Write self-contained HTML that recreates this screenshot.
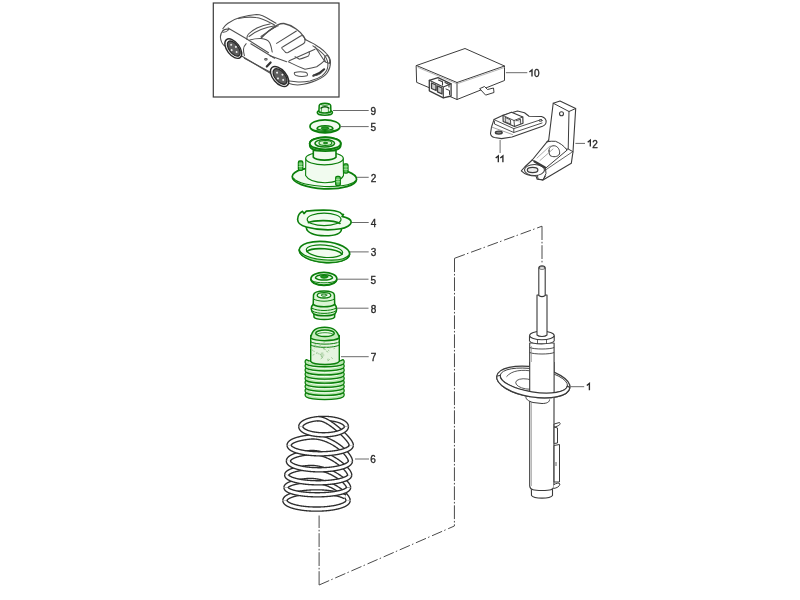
<!DOCTYPE html>
<html><head><meta charset="utf-8">
<style>
html,body{margin:0;padding:0;background:#fff;width:800px;height:600px;overflow:hidden}
svg{display:block;will-change:transform}
text{font-family:"Liberation Sans",sans-serif;font-size:10px;fill:#2a2a2a;stroke:#2a2a2a;stroke-width:0.35}
.g{stroke:#149614;stroke-width:1.4;fill:#eef9ec;stroke-linejoin:round;stroke-linecap:round}
.gn{stroke:#149614;stroke-width:1.2;fill:none;stroke-linecap:round}
.k{stroke:#3c3c3c;stroke-width:1;fill:#fff;stroke-linejoin:round;stroke-linecap:round}
.kn{stroke:#3c3c3c;stroke-width:1;fill:none;stroke-linecap:round;stroke-linejoin:round}
.ld{stroke:#6a6a6a;stroke-width:1;fill:none}

</style></head><body>
<svg width="800" height="600" viewBox="0 0 800 600">
<!-- car box -->
<rect x="213.3" y="3" width="125.7" height="94" fill="none" stroke="#3a3a3a" stroke-width="1.2"/>
<g id="car" fill="none" stroke="#505050" stroke-width="1.05" stroke-linecap="round" stroke-linejoin="round">
 <!-- rear deck outer -->
 <path d="M222.8 28.8 C224.5 26,226 24.5,228 23.2 C232 20.5,236 18.5,240 17.5 C246 16,251 15,256.5 14.5 C261 14.5,265 16.5,270 19.8 L276 23.2"/>
 <path d="M238.5 18.6 C244 17.2,250 16.7,256 17.5 C262 18,266 20.5,274.5 25"/>
 <!-- rear end -->
 <path d="M223.5 30 C221.5 32,220.3 34,220.4 37 C220.6 40,221.5 43,224 45.5 L227 47"/>
 <path d="M222.5 31 C224 29.5,226 28.5,229 29.5 C227.5 31,225 32.5,222.8 32.2"/>
 <!-- character line -->
 <path d="M228 28 L246 38.5 L268.5 52.8"/>
 <!-- windscreen / roll bar -->
 <path d="M246.8 39.3 C246.5 37,247 35.5,248.5 34 C251 31.5,254 29.5,257 28 C262 25.5,266 24.5,270 24"/>
 <path d="M249 36.5 C253 33.5,257 31,261 29.5 C266 27.5,270 26.5,275 25.8"/>
 <path d="M249.8 40 C253 39,257 38.4,261 38.5 C265 38.8,268 40,269.5 42.5 C271 45,271.5 48,272.2 52"/>
 <path d="M261 36.5 C266 33,270 30,276 26.5"/>
 <!-- roof -->
 <path d="M261.2 38 C266 33,272 28,277.7 24.9 C280 23.8,282 23.4,283.9 23.5 C289 24.5,293 26.5,296.2 29 C299 31,301.5 33.5,303.1 35.9 L305.9 40" stroke-width="1.3"/>
 <path d="M263.5 35.3 C268 31,273 27.8,278.5 25.8" stroke-width="0.8"/>
 <path d="M276.6 43.4 L296.4 31"/>
 <path d="M283 46.8 L300.6 36 C302.5 35,303.5 35.8,304.3 37.6 L305 40.5 C305.2 42,304.8 43,303 44 L288 52.5 C286.5 53.2,285.5 52.8,284.8 51.5 L282 48.5 C281.5 47.5,282 47.2,283 46.8 Z"/>
 <!-- fender & front -->
 <path d="M306.3 40 C309 41.3,311 42.3,312.9 43.4 C315 44.6,317 46,319.5 47.5 C322 49.3,324.3 51,326.1 53.3 C329 56,330.5 59,330.5 62 C330.5 66,329.5 69.5,327.5 72.5 C325.5 75.5,322 78,316 80.5 C311 82.5,306 84.2,300 84.8 C296 85.2,292 84.6,288.3 83.3"/>
 <path d="M312.9 45.8 C318 49.5,322 52,324.5 55.5 C327.3 59,328.2 63,327.8 66.5 C327.5 70,325.5 73,322 75.8 C319 78,315 79.8,310 81 C305 82,300 82.2,296 81.8 L287.5 80.8"/>
 <path d="M315 46.7 L325 61.7"/>
 <path d="M327.5 55.5 C329.5 58,330 61,329.5 63.5 L325.5 62 C324.5 60,324 58,325 56 Z"/>
 <!-- hood -->
 <path d="M289.2 60.8 L315 49.2"/>
 <path d="M288.3 61.7 C293 64,298 66.8,305 69.2 C309 68.5,313 67.7,316.7 66.7 C320 64.5,322.5 62.5,324.2 60.8"/>
 <path d="M295 56.7 C297 57.5,298.5 58.5,299.2 59.2 C302 58.5,305 57.3,308.5 56 C309.5 55,309.5 53,309.2 51.7"/>
 <path d="M270 55.8 L286.7 61.7"/>
 <!-- headlight & intake -->
 <path d="M294.5 72.5 C298 71.5,302 71.5,305.5 72.3 C307.5 73,308 74.5,307 75.8 C303 76.8,299 76.5,296 75.5 C294.5 74.8,294 73.5,294.5 72.5 Z"/>
 <path d="M313.3 75.8 C317 74.5,321 72.5,324.2 69.2" stroke-width="2" stroke="#333"/>
 <path d="M313.5 75 C316 76,320 75,323 71"/>
 <!-- side -->
 <path d="M242.5 56.5 L272.8 74.8"/>
 <path d="M244.4 58.3 L271.8 73"/>
 <path d="M246.2 43.7 C244.5 45.5,243.5 47.5,243.5 49.2 C243.4 51.5,243.8 53.5,244.4 55.6"/>
 <path d="M250.8 43.7 L274.6 58.3"/>
 <path d="M266.8 66.5 L270.6 62.5" stroke-width="2.2" stroke="#333"/>
 <ellipse cx="265.9" cy="59.3" rx="1.3" ry="0.8"/>
 <path d="M226 47 C230 50,236 55,242.5 56.5"/>
 <!-- wheels -->
 <g stroke="#2a2a2a">
  <g transform="rotate(53 233.3 48.6)">
   <ellipse cx="233.3" cy="48.6" rx="11.3" ry="6.3" stroke-width="1.4" fill="#fff"/>
   <ellipse cx="233.6" cy="48.2" rx="8.8" ry="4.6" stroke-width="1.3" fill="#5e5e5e"/>
   <circle cx="229" cy="48" r="1" fill="#eee" stroke="none"/><circle cx="233.5" cy="45.5" r="1" fill="#eee" stroke="none"/><circle cx="238" cy="48" r="1" fill="#eee" stroke="none"/><circle cx="233.5" cy="50.8" r="1" fill="#eee" stroke="none"/>
  </g>
  <g transform="rotate(50 279.6 76.5)">
   <ellipse cx="279.6" cy="76.5" rx="11.8" ry="6.7" stroke-width="1.4" fill="#fff"/>
   <ellipse cx="279.9" cy="76.1" rx="9.2" ry="5" stroke-width="1.3" fill="#5e5e5e"/>
   <circle cx="275" cy="76" r="1" fill="#eee" stroke="none"/><circle cx="280" cy="73.2" r="1" fill="#eee" stroke="none"/><circle cx="284.5" cy="76" r="1" fill="#eee" stroke="none"/><circle cx="280" cy="79" r="1" fill="#eee" stroke="none"/>
  </g>
 </g>
</g>
</g>

<!-- module 10 -->
<g class="kn" stroke="#333" stroke-width="1">
 <path d="M416.5 65.5 L465 48.5 L504.5 66 L504.5 80.5 L457 99.5 L417 82.5 Z" fill="#fff"/>
 <path d="M416.5 65.5 L457 82.5 L504.5 66"/>
 <path d="M457 82.5 L457 99.5"/>
 <path d="M418 67.5 L457 83.8 L504.5 67.5" stroke="#999" stroke-width="0.7"/>
 <!-- connector -->
 <path d="M429.3 80.3 L438 77.6 L451.1 83.8 L451.1 96 L443.3 97.8 L429.3 90.8 Z" fill="#fff" stroke-width="1.3"/>
 <path d="M429.3 80.3 L443.3 87 L451.1 83.8 M443.3 87 L443.3 97.8" stroke-width="1.1"/>
 <path d="M431.5 83 L436 85 L436 90.5 L431.5 88.5 Z M437.5 85.8 L442 88 L442 94 L437.5 91.8 Z" stroke-width="1.3" fill="#ccc"/>
 <path d="M438.5 80 L442.5 81.8 L442.5 85 M445 82.5 L449 84.5 L449 87" stroke-width="1.1"/>
 <path d="M446 89 L449.5 90.5 L449.5 94.5" stroke-width="1"/>
 <!-- tab -->
 <path d="M480 88.5 L484.5 86.5 L487.5 89.5 L493.5 88 L494 92.5 L486 95 Z" fill="#fff"/>
</g>
<!-- sensor 11 -->
<g class="kn" stroke="#333" stroke-width="1">
 <path d="M490.5 133.5 C490.8 135.8,492 137,494.5 137.5 L501.5 138.6 L512 137 L542.5 126.2 C545.5 125,546.5 122.5,546 120.5 C545.5 118,544 117.3,541.5 116.5 L529 116.3 L524.5 112.8 L517.5 111 L503 115.2 L494 119.6 L491.5 127 Z" fill="#fff" stroke-width="1.1"/>
 <path d="M494 119.6 L513.8 128.6 L541.5 119.5" stroke-width="0.9"/>
 <path d="M494.5 121.5 L494.5 124 L513.8 132.5 L513.8 128.6" stroke-width="0.9"/>
 <path d="M513.8 132.5 L542 123" stroke-width="0.9"/>
 <path d="M491.5 127 L512.5 134.5" stroke-width="0.7" stroke="#777"/>
 <path d="M503 115.5 L503.2 121.5 L514.5 126.5 L523 123.2 L522.8 117 L511.5 112.2 Z" fill="#fff" stroke-width="1.2"/>
 <path d="M503 115.5 L514 120.5 L522.8 117 M514 120.5 L514.5 126.5" stroke-width="0.9"/>
 <path d="M505.5 117.5 L510.5 119.8 L510.7 124.2 L505.7 122 Z M516 120.8 L520.5 119.2 L520.7 123.5" stroke-width="0.9" fill="#ddd"/>
 <ellipse cx="498.8" cy="132.6" rx="3.4" ry="1.5" stroke-width="1.4" fill="#888"/>
 <ellipse cx="540.5" cy="120.6" rx="1.6" ry="0.9" stroke-width="0.8"/>
</g>
<!-- bracket 12 -->
<g class="kn" stroke="#333" stroke-width="1">
 <path d="M553.2 103.2 L560 101 L575.7 108.5 L573 151.7 L571.3 163.3 L543 180 L537.2 179.2 L536 176 C530 176,524.5 174,521.3 170.8 L524.7 167 L532.2 160 L547.2 141.7 L548.7 140 Z" fill="#fff" stroke-width="1.1"/>
 <path d="M553.2 103.2 L569 111.5 L575.7 108.5 M569 111.5 L568.2 149" />
 <path d="M548.7 140 C549 141.5,548 142,547.2 141.7"/>
 <circle cx="561.5" cy="113.7" r="2" stroke-width="1.1"/>
 <path d="M547.2 141.7 C549.5 141.3,553 141,555.5 141.3 C560 143,564 146,566.3 149.2 L568.2 149 L573 151.7"/>
 <path d="M566.3 149.2 L567.2 150 L545.5 168.3 L537.5 164"/>
 <path d="M532.2 160 L545.5 168.3 L546 173.5 L543 180" />
 <path d="M534.5 161.5 L545 167.5" stroke-width="2.2"/>
 <path d="M571.5 152.5 L545.5 170" stroke-width="0.8"/>
 <path d="M549 151 C548.5 147,552 145,555.5 146 C559 147.5,560 151,559.5 154 C558 157,553 157.5,550 155.5 C549.3 154,549 152.5,549 151 Z" stroke-width="1"/>
 <path d="M537 158 L550 146 M540 160.5 L553 149" stroke-width="0.7" stroke="#888"/>
 <ellipse cx="534.5" cy="170" rx="10" ry="5.5" stroke-width="1.1"/>
 <ellipse cx="532.6" cy="170" rx="5.3" ry="2.6" stroke-width="1.2" fill="#eee"/>
 <path d="M537.5 175.5 L538 179 L543 180 L545.5 176" stroke-width="1"/>
</g>


<g id="greens" stroke="#0b7f0b" stroke-linecap="round" stroke-linejoin="round" fill="#f1fbef">
 <!-- nut 9 -->
 <g stroke-width="1.5">
  <ellipse cx="324.85" cy="112.5" rx="7.6" ry="2.8"/>
  <path d="M318.9 111.6 L319.2 105.6 C319.5 103.6,322 103.2,324.9 103.2 C328 103.2,330.4 103.6,330.7 105.6 L330.9 111.6 C329 113.4,321 113.4,318.9 111.6 Z" fill="#e6f8e2"/>
  <path d="M321.2 108 C322.5 106.3,327.3 106.3,328.7 108" stroke-width="1.7" stroke="#075a07" fill="none"/>
  <path d="M321 104.6 C322.5 105.6,327.5 105.6,329 104.6" stroke-width="0.9" fill="none"/>
  <path d="M321.5 109 L321.3 111.8 M328.3 109 L328.5 111.8" stroke-width="0.7" fill="none"/>
 </g>
 <!-- washer 5 top -->
 <g stroke-width="1.7">
  <ellipse cx="325" cy="126.4" rx="15" ry="6.5"/>
  <path d="M311.2 128.6 C314 132.2,336 132.2,338.8 128.6" fill="none" stroke-width="1.3"/>
  <path d="M317 128.8 C317.5 124.8,332.5 124.8,333 128.8 C330 130.6,320 130.6,317 128.8 Z" fill="#d8f4d2" stroke-width="1.5"/>
  <ellipse cx="325" cy="128.2" rx="3.8" ry="1.4" fill="#2b9a2b" stroke-width="0.9"/>
 </g>
 <!-- top mount 2 -->
 <g stroke-width="1.4">
  <g transform="rotate(2.5 324.4 178)">
   <ellipse cx="324.4" cy="178" rx="32.2" ry="10.8" stroke-width="1.7"/>
   <path d="M293.5 179.5 C297 184.5,312 186.5,324.4 186.5 C338 186.5,352 184,355.5 179.5" fill="none" stroke-width="1.1"/>
  </g>
  <path d="M305.8 158.5 L305.6 175.5 C308 180,316 182.5,325 182.7 C334 182.5,341.5 180,343.5 175.5 L343.2 158.5 Z" stroke-width="1.1"/>
  <ellipse cx="324.5" cy="158.5" rx="18.8" ry="6.3" stroke-width="1.2"/>
  <path d="M313.3 150.5 L313.3 157.3 C316 161,333 161,336 157.3 L336 150.5 Z" stroke-width="1.6"/>
  <path d="M309.75 143.4 A15.5 6.1 0 0 1 340.75 143.4 L340.6 146.2 C339.5 152.8,311 152.8,309.9 146.2 Z" stroke-width="1.8" fill="#d9f4d3"/>
  <ellipse cx="325.25" cy="143.4" rx="15.5" ry="6.1" stroke-width="1.9"/>
  <ellipse cx="324.8" cy="143.3" rx="9.8" ry="3.8" stroke-width="1.5" fill="#e8f8e4"/>
  <ellipse cx="325.4" cy="143" rx="6.5" ry="2.5" stroke-width="1.1" fill="#d4f2cc"/>
  <ellipse cx="325.4" cy="143" rx="2" ry="0.9" stroke-width="0.9" fill="#3aa03a"/>
  <!-- studs -->
  <g stroke-width="1.3" fill="#5cbf5c">
   <rect x="298.4" y="161" width="4.4" height="9.3" rx="1.4"/>
   <rect x="343.6" y="163.8" width="4.4" height="9.3" rx="1.4"/>
   <rect x="335.7" y="176.3" width="4.6" height="9.3" rx="1.4"/>
   <path d="M299 164 H302.2 M299 166.5 H302.2 M344.2 166.8 H347.4 M344.2 169.3H347.4 M336.3 179.3H339.7 M336.3 181.8H339.7" stroke-width="0.8" stroke="#bdf0b5" fill="none"/>
  </g>
 </g>
 <!-- pad 4 -->
 <g stroke-width="1.5">
  <path d="M306.3 227.5 C306.5 232.5,314 235.8,325 235.8 C335 235.8,341.3 233.5,341.5 229" stroke-width="1.6"/>
  <path d="M297.6 219.5 C297.8 215.5,300 212.5,302.6 211.3 L304 213.6 L306.3 211.1 C312 210.5,322 209.9,330 210.3 C336 210.8,340.5 212.2,341.5 213.9 L343.5 214.6 L342 216.4 C347 217.5,351 219.5,351.2 222 C351.2 225,346 228,340.6 228.8 C332 230.3,318 230.1,306.3 226.9 C301 225.5,297.6 223,297.6 219.5 Z" stroke-width="1.6"/>
  <ellipse cx="324.1" cy="219.4" rx="16.9" ry="6.2" stroke-width="1.2"/>
  <path d="M308.5 222.6 C314 220,333 219.6,340 223.4" fill="none" stroke-width="1.7"/>
 </g>
 <!-- pad 3 -->
 <g stroke-width="1.6" transform="rotate(5 324.4 252)">
  <ellipse cx="324.4" cy="252" rx="25.3" ry="10.5" stroke-width="1.7"/>
  <path d="M299.1 252 A25.3 10.5 0 0 0 349.7 252 C347 257.5,337 259.8,324.4 259.8 C312 259.8,302 257.5,299.1 252 Z" fill="#a6e09f" stroke-width="1.2"/>
  <ellipse cx="324.4" cy="251.2" rx="18.2" ry="6.1" stroke-width="1.2"/>
  <path d="M307 253 C312 247.5,337 247.3,342.2 252.5" fill="none" stroke-width="1.7"/>
 </g>
 <!-- washer 5 lower -->
 <g stroke-width="1.6">
  <path d="M310.9 279.5 C311.5 283.8,318 285.4,324 285.4 C330 285.4,336.3 283.8,336.9 279.5" stroke-width="1.7"/>
  <ellipse cx="323.9" cy="278.7" rx="13" ry="6.3"/>
  <path d="M312.5 281 C316 283.5,332 283.5,335.5 281" fill="none" stroke-width="1"/>
  <path d="M315.4 277.9 C316 273.6,332 273.6,332.6 277.9 C329.5 280.8,318.5 280.8,315.4 277.9 Z" fill="#e4f8e0" stroke-width="1.4"/>
  <ellipse cx="324.2" cy="276.8" rx="3.7" ry="1.4" fill="#1f961f" stroke-width="1"/>
 </g>
 <!-- bump stop 8 -->
 <g stroke-width="1.4" fill="#dcf5d6">
  <path d="M313.9 313.6 L314 317.2 C316 320.4,332.5 320.4,334.6 317.2 L334.7 313.6 Z" stroke-width="1.5"/>
  <path d="M313.2 304.3 C311.6 305.5,311.2 307,311.3 309 C311.5 311.5,312.5 313,313.9 314 C318 316.4,330.5 316.4,334.7 314 C336 313,336.6 311.5,336.6 309 C336.6 307,336 305.5,334.7 304.3 Z" stroke-width="1.6"/>
  <path d="M313.2 304.5 L313.5 295 C314 292.2,319 291.1,324 291.1 C329 291.1,334 292.2,334.4 295 L334.7 304.5 C330 307.6,318 307.6,313.2 304.5 Z" stroke-width="1.5"/>
  <ellipse cx="324" cy="295.3" rx="6.8" ry="2.7" stroke-width="1.3" fill="#f0fbee"/>
  <ellipse cx="324" cy="295.1" rx="2.8" ry="1.1" stroke-width="1" fill="#fff"/>
  <path d="M313.5 299 C318 302,330 302,334.5 299 M312 308.3 C318 311.3,330 311.3,336 308.3 M312.5 311.2 C318 314.2,330 314.2,335.5 311.2" fill="none" stroke-width="1"/>
 </g>
 <!-- boot 7 -->
 <g stroke-width="1.3" fill="#b9e6b0">
  <path d="M306.3 392.4 C312 396.0,337.5 396.0,343 392.4 C344.6 393.6,344.6 396.0,343 397.0 C337.5 400.4,312 400.4,306.3 397.0 C304.7 396.0,304.7 393.6,306.3 392.4 Z"/>
  <path d="M309.5 395.0 C315 397.8,334 397.8,340 395.0" stroke="#f4fff2" stroke-width="1" fill="none"/>
  <path d="M306.3 388.3 C312 391.9,337.5 391.9,343 388.3 C344.6 389.5,344.6 391.9,343 392.9 C337.5 396.3,312 396.3,306.3 392.9 C304.7 391.9,304.7 389.5,306.3 388.3 Z"/>
  <path d="M309.5 390.9 C315 393.7,334 393.7,340 390.9" stroke="#f4fff2" stroke-width="1" fill="none"/>
  <path d="M306.3 384.2 C312 387.8,337.5 387.8,343 384.2 C344.6 385.4,344.6 387.8,343 388.8 C337.5 392.2,312 392.2,306.3 388.8 C304.7 387.8,304.7 385.4,306.3 384.2 Z"/>
  <path d="M309.5 386.8 C315 389.6,334 389.6,340 386.8" stroke="#f4fff2" stroke-width="1" fill="none"/>
  <path d="M306.3 380.1 C312 383.7,337.5 383.7,343 380.1 C344.6 381.3,344.6 383.7,343 384.7 C337.5 388.1,312 388.1,306.3 384.7 C304.7 383.7,304.7 381.3,306.3 380.1 Z"/>
  <path d="M309.5 382.7 C315 385.5,334 385.5,340 382.7" stroke="#f4fff2" stroke-width="1" fill="none"/>
  <path d="M306.3 376.0 C312 379.6,337.5 379.6,343 376.0 C344.6 377.2,344.6 379.6,343 380.6 C337.5 384.0,312 384.0,306.3 380.6 C304.7 379.6,304.7 377.2,306.3 376.0 Z"/>
  <path d="M309.5 378.6 C315 381.4,334 381.4,340 378.6" stroke="#f4fff2" stroke-width="1" fill="none"/>
  <path d="M306.3 371.9 C312 375.5,337.5 375.5,343 371.9 C344.6 373.1,344.6 375.5,343 376.5 C337.5 379.9,312 379.9,306.3 376.5 C304.7 375.5,304.7 373.1,306.3 371.9 Z"/>
  <path d="M309.5 374.5 C315 377.3,334 377.3,340 374.5" stroke="#f4fff2" stroke-width="1" fill="none"/>
  <path d="M306.3 367.8 C312 371.4,337.5 371.4,343 367.8 C344.6 369.0,344.6 371.4,343 372.4 C337.5 375.8,312 375.8,306.3 372.4 C304.7 371.4,304.7 369.0,306.3 367.8 Z"/>
  <path d="M309.5 370.4 C315 373.2,334 373.2,340 370.4" stroke="#f4fff2" stroke-width="1" fill="none"/>
  <path d="M306.3 363.7 C312 367.3,337.5 367.3,343 363.7 C344.6 364.9,344.6 367.3,343 368.3 C337.5 371.7,312 371.7,306.3 368.3 C304.7 367.3,304.7 364.9,306.3 363.7 Z"/>
  <path d="M309.5 366.3 C315 369.1,334 369.1,340 366.3" stroke="#f4fff2" stroke-width="1" fill="none"/>
  <path d="M306.3 359.6 C312 363.2,337.5 363.2,343 359.6 C344.6 360.8,344.6 363.2,343 364.2 C337.5 367.6,312 367.6,306.3 364.2 C304.7 363.2,304.7 360.8,306.3 359.6 Z"/>
  <path d="M309.5 362.2 C315 365.0,334 365.0,340 362.2" stroke="#f4fff2" stroke-width="1" fill="none"/>
  <path d="M310.7 335.5 L310.7 361.5 C314 365.5,336 365.5,339.3 361.5 L339.3 335.5 Z" fill="#e6f4e0" stroke-width="1.4"/>
  <path d="M310.7 338 C312 330,316 327.3,324.7 327.3 C333 327.3,337.5 330,339.3 338 C334 341.5,315 341.5,310.7 338 Z" fill="#c6ecbd" stroke-width="1.5"/>
  <ellipse cx="325" cy="333.3" rx="9.3" ry="3.3" fill="#eafae6" stroke-width="1.5"/>
  <path d="M316.5 334.5 C319 332,331 332,333.5 334.5" fill="none" stroke-width="0.8"/>
  <path d="M310.7 341.8 C315 345,335 345,339.3 341.8 M310.7 345 C315 348.2,335 348.2,339.3 345" fill="none" stroke-width="1"/>
  <path d="M320.1 345.7 l0.6 -2.2 M325.4 349.6 l-1.8 -0.7 M312.9 350.8 l-1.7 -2.2 M322.6 357.9 l-1.5 -1.7 M327.7 360.1 l0.3 -1.1 M336.4 343.8 l1.4 -1.5 M315.6 345.1 l-0.8 0.4 M316.5 353.5 l0.6 -1.2 M325.7 344.1 l-1.8 -1.8 M329.0 350.7 l-0.7 -0.5 M323.3 348.4 l1.2 -0.1 M318.1 353.3 l0.1 0.6 M330.2 348.2 l1.9 -2.1 M322.5 356.6 l-1.4 -0.8 M313.0 355.0 l1.1 -0.5 M333.9 348.6 l0.8 -0.4 M326.5 351.2 l1.4 0.8 M323.9 355.0 l-1.8 -0.0 M328.2 360.9 l1.3 -1.5 M321.6 355.0 l-1.9 -0.9 M316.2 345.1 l-1.8 0.2 M315.2 347.5 l-0.4 0.5 M314.0 351.1 l0.2 0.6 M332.5 358.6 l-0.9 -1.0 M321.0 358.9 l1.8 -2.0 M316.4 347.2 l-1.1 -0.8 M326.7 347.7 l-2.0 -1.0 M321.2 353.2 l1.8 -0.1" stroke-width="0.8" stroke="#8fbf88" fill="none"/>
 </g>
</g>

<!-- spring 6 -->
<g id="spring" fill="none" stroke-linecap="butt" stroke-linejoin="round">
<path d="M316.55 418.80 L316.93 418.76 L317.32 418.72 L317.70 418.68 L318.08 418.64 L318.47 418.61 L318.86 418.58 L319.25 418.55 L319.64 418.52 L320.03 418.50 L320.43 418.48 L320.82 418.46 L321.22 418.44 L321.61 418.43 L322.01 418.42 L322.41 418.41 L322.81 418.40 L323.20 418.40 L323.60 418.40 L324.00 418.40 L324.40 418.41 L324.80 418.41 L325.19 418.42 L325.59 418.43 L325.99 418.45 L326.38 418.46 L326.78 418.48 L327.17 418.50 L327.56 418.52 L327.95 418.55 L328.34 418.58 L328.73 418.61 L329.12 418.64 L329.51 418.68 L329.89 418.72 L330.27 418.76 L330.65 418.80 L331.03 418.85 L331.40 418.90 L331.78 418.95 L332.15 419.00 L332.51 419.05 L332.88 419.11 L333.24 419.17 L333.60 419.23 L333.96 419.29 L334.31 419.36 L334.66 419.43 L335.01 419.50 L335.35 419.57 L335.69 419.65 L336.02 419.72 L336.36 419.80 L336.68 419.88 L337.01 419.97 L337.33 420.05 L337.64 420.14 L337.95 420.23 L338.26 420.32 L338.56 420.41 L338.86 420.51 L339.16 420.61 L339.44 420.70 L339.73 420.80 L340.01 420.91 L340.28 421.01 L340.55 421.12 L340.81 421.22 L341.07 421.33 L341.33 421.44 L341.57 421.55 L341.81 421.67 L342.05 421.78 L342.28 421.90 L342.51 422.02 L342.73 422.14 L342.94 422.26 L343.15 422.38 L343.35 422.50 L343.55 422.63 L343.74 422.75 L343.92 422.88 L344.10 423.01 L344.27 423.14 L344.43 423.27 L344.59 423.40 L344.74 423.53 L344.89 423.67 L345.03 423.80 L345.16 423.93 L345.29 424.07 L345.41 424.21 L345.52 424.34 L345.63 424.48 L345.73 424.62 L345.82 424.76 L345.90 424.90 L345.98 425.04 L346.06 425.18 L346.12 425.32 L346.18 425.46 L346.23 425.61 L346.28 425.75 L346.31 425.89 L346.35 426.03 L346.37 426.18 L346.39 426.32 L346.40 426.46 L346.40 426.61" stroke="#2e2e2e" stroke-width="5.5"/><path d="M316.55 418.80 L316.93 418.76 L317.32 418.72 L317.70 418.68 L318.08 418.64 L318.47 418.61 L318.86 418.58 L319.25 418.55 L319.64 418.52 L320.03 418.50 L320.43 418.48 L320.82 418.46 L321.22 418.44 L321.61 418.43 L322.01 418.42 L322.41 418.41 L322.81 418.40 L323.20 418.40 L323.60 418.40 L324.00 418.40 L324.40 418.41 L324.80 418.41 L325.19 418.42 L325.59 418.43 L325.99 418.45 L326.38 418.46 L326.78 418.48 L327.17 418.50 L327.56 418.52 L327.95 418.55 L328.34 418.58 L328.73 418.61 L329.12 418.64 L329.51 418.68 L329.89 418.72 L330.27 418.76 L330.65 418.80 L331.03 418.85 L331.40 418.90 L331.78 418.95 L332.15 419.00 L332.51 419.05 L332.88 419.11 L333.24 419.17 L333.60 419.23 L333.96 419.29 L334.31 419.36 L334.66 419.43 L335.01 419.50 L335.35 419.57 L335.69 419.65 L336.02 419.72 L336.36 419.80 L336.68 419.88 L337.01 419.97 L337.33 420.05 L337.64 420.14 L337.95 420.23 L338.26 420.32 L338.56 420.41 L338.86 420.51 L339.16 420.61 L339.44 420.70 L339.73 420.80 L340.01 420.91 L340.28 421.01 L340.55 421.12 L340.81 421.22 L341.07 421.33 L341.33 421.44 L341.57 421.55 L341.81 421.67 L342.05 421.78 L342.28 421.90 L342.51 422.02 L342.73 422.14 L342.94 422.26 L343.15 422.38 L343.35 422.50 L343.55 422.63 L343.74 422.75 L343.92 422.88 L344.10 423.01 L344.27 423.14 L344.43 423.27 L344.59 423.40 L344.74 423.53 L344.89 423.67 L345.03 423.80 L345.16 423.93 L345.29 424.07 L345.41 424.21 L345.52 424.34 L345.63 424.48 L345.73 424.62 L345.82 424.76 L345.90 424.90 L345.98 425.04 L346.06 425.18 L346.12 425.32 L346.18 425.46 L346.23 425.61 L346.28 425.75 L346.31 425.89 L346.35 426.03 L346.37 426.18 L346.39 426.32 L346.40 426.46 L346.40 426.61" stroke="#fff" stroke-width="2.8"/>
<path d="M300.80 426.59 L300.80 426.44 L300.82 426.30 L300.83 426.16 L300.86 426.01 L300.89 425.87 L300.93 425.73 L300.98 425.59 L301.03 425.44 L301.09 425.30 L301.15 425.16 L301.23 425.02 L301.31 424.88 L301.39 424.74 L301.49 424.60 L301.59 424.46 L301.70 424.32 L301.81 424.19 L301.93 424.05 L302.06 423.92 L302.19 423.78 L302.33 423.65 L302.48 423.51 L302.63 423.38 L302.79 423.25 L302.96 423.12 L303.13 422.99 L303.31 422.86 L303.49 422.74 L303.68 422.61 L303.88 422.49 L304.08 422.36 L304.29 422.24 L304.50 422.12 L304.72 422.00 L304.95 421.88 L305.18 421.77 L305.42 421.65 L305.66 421.54 L305.91 421.43 L306.16 421.32 L306.42 421.21 L306.69 421.10 L306.96 421.00 L307.23 420.89 L307.51 420.79 L307.80 420.69 L308.09 420.59 L308.38 420.49 L308.68 420.40 L308.98 420.31 L309.29 420.22 L309.60 420.13 L309.92 420.04 L310.24 419.96 L310.56 419.87 L310.89 419.79 L311.22 419.71 L311.56 419.64 L311.90 419.56 L312.24 419.49 L312.59 419.42 L312.94 419.35 L313.29 419.29 L313.65 419.22 L314.01 419.16 L314.37 419.10 L314.74 419.04 L315.11 418.99 L315.48 418.94 L315.85 418.89 L316.23 418.84 L316.60 418.80 L316.98 418.76 L317.36 418.73 L317.74 418.72 L318.11 418.72 L318.49 418.73 L318.86 418.74 L319.24 418.77 L319.61 418.82 L319.99 418.87 L320.37 418.93 L320.74 419.00 L321.12 419.08 L321.50 419.17 L321.88 419.27 L322.26 419.38 L322.64 419.50 L323.02 419.63 L323.40 419.77 L323.78 419.91 L324.17 420.07 L324.55 420.23 L324.94 420.40 L325.33 420.58 L325.72 420.77 L326.11 420.96 L326.50 421.17 L326.89 421.37 L327.29 421.59 L327.68 421.82 L328.08 422.05 L328.48 422.28 L328.88 422.53 L329.28 422.78 L329.68 423.03 L330.08 423.30 L330.49 423.56 L330.89 423.84 L331.30 424.12 L331.70 424.40 L332.11 424.69 L332.52 424.98 L332.92 425.28 L333.33 425.58 L333.74 425.89 L334.15 426.20 L334.56 426.52 L334.96 426.84 L335.37 427.16 L335.78 427.48 L336.19 427.81 L336.59 428.14 L337.00 428.48 L337.40 428.82 L337.80 429.15 L338.20 429.50 L338.60 429.84 L338.99 430.18 L339.39 430.53 L339.78 430.88 L340.17 431.23 L340.56 431.58 L340.94 431.93 L341.32 432.28 L341.70 432.63 L342.07 432.99 L342.44 433.34 L342.80 433.69 L343.16 434.04 L343.52 434.39 L343.87 434.74 L344.21 435.09 L344.55 435.44 L344.89 435.78 L345.22 436.13 L345.54 436.47 L345.85 436.81 L346.16 437.15 L346.47 437.48 L346.76 437.81 L347.05 438.14 L347.33 438.47 L347.60 438.79 L347.87 439.11 L348.12 439.42 L348.37 439.74 L348.61 440.04 L348.84 440.34 L349.06 440.64 L349.27 440.93 L349.48 441.22 L349.67 441.50 L349.85 441.78 L350.03 442.05 L350.19 442.31 L350.34 442.57 L350.48 442.82 L350.61 443.06 L350.73 443.30 L350.84 443.53 L350.94 443.75 L351.02 443.96 L351.10 444.17 L351.16 444.37 L351.21 444.56 L351.25 444.74 L351.28 444.91 L351.30 445.07 L351.30 445.23" stroke="#2e2e2e" stroke-width="5.5"/><path d="M300.80 426.59 L300.80 426.44 L300.82 426.30 L300.83 426.16 L300.86 426.01 L300.89 425.87 L300.93 425.73 L300.98 425.59 L301.03 425.44 L301.09 425.30 L301.15 425.16 L301.23 425.02 L301.31 424.88 L301.39 424.74 L301.49 424.60 L301.59 424.46 L301.70 424.32 L301.81 424.19 L301.93 424.05 L302.06 423.92 L302.19 423.78 L302.33 423.65 L302.48 423.51 L302.63 423.38 L302.79 423.25 L302.96 423.12 L303.13 422.99 L303.31 422.86 L303.49 422.74 L303.68 422.61 L303.88 422.49 L304.08 422.36 L304.29 422.24 L304.50 422.12 L304.72 422.00 L304.95 421.88 L305.18 421.77 L305.42 421.65 L305.66 421.54 L305.91 421.43 L306.16 421.32 L306.42 421.21 L306.69 421.10 L306.96 421.00 L307.23 420.89 L307.51 420.79 L307.80 420.69 L308.09 420.59 L308.38 420.49 L308.68 420.40 L308.98 420.31 L309.29 420.22 L309.60 420.13 L309.92 420.04 L310.24 419.96 L310.56 419.87 L310.89 419.79 L311.22 419.71 L311.56 419.64 L311.90 419.56 L312.24 419.49 L312.59 419.42 L312.94 419.35 L313.29 419.29 L313.65 419.22 L314.01 419.16 L314.37 419.10 L314.74 419.04 L315.11 418.99 L315.48 418.94 L315.85 418.89 L316.23 418.84 L316.60 418.80 L316.98 418.76 L317.36 418.73 L317.74 418.72 L318.11 418.72 L318.49 418.73 L318.86 418.74 L319.24 418.77 L319.61 418.82 L319.99 418.87 L320.37 418.93 L320.74 419.00 L321.12 419.08 L321.50 419.17 L321.88 419.27 L322.26 419.38 L322.64 419.50 L323.02 419.63 L323.40 419.77 L323.78 419.91 L324.17 420.07 L324.55 420.23 L324.94 420.40 L325.33 420.58 L325.72 420.77 L326.11 420.96 L326.50 421.17 L326.89 421.37 L327.29 421.59 L327.68 421.82 L328.08 422.05 L328.48 422.28 L328.88 422.53 L329.28 422.78 L329.68 423.03 L330.08 423.30 L330.49 423.56 L330.89 423.84 L331.30 424.12 L331.70 424.40 L332.11 424.69 L332.52 424.98 L332.92 425.28 L333.33 425.58 L333.74 425.89 L334.15 426.20 L334.56 426.52 L334.96 426.84 L335.37 427.16 L335.78 427.48 L336.19 427.81 L336.59 428.14 L337.00 428.48 L337.40 428.82 L337.80 429.15 L338.20 429.50 L338.60 429.84 L338.99 430.18 L339.39 430.53 L339.78 430.88 L340.17 431.23 L340.56 431.58 L340.94 431.93 L341.32 432.28 L341.70 432.63 L342.07 432.99 L342.44 433.34 L342.80 433.69 L343.16 434.04 L343.52 434.39 L343.87 434.74 L344.21 435.09 L344.55 435.44 L344.89 435.78 L345.22 436.13 L345.54 436.47 L345.85 436.81 L346.16 437.15 L346.47 437.48 L346.76 437.81 L347.05 438.14 L347.33 438.47 L347.60 438.79 L347.87 439.11 L348.12 439.42 L348.37 439.74 L348.61 440.04 L348.84 440.34 L349.06 440.64 L349.27 440.93 L349.48 441.22 L349.67 441.50 L349.85 441.78 L350.03 442.05 L350.19 442.31 L350.34 442.57 L350.48 442.82 L350.61 443.06 L350.73 443.30 L350.84 443.53 L350.94 443.75 L351.02 443.96 L351.10 444.17 L351.16 444.37 L351.21 444.56 L351.25 444.74 L351.28 444.91 L351.30 445.07 L351.30 445.23" stroke="#fff" stroke-width="2.8"/>
<path d="M289.10 445.17 L289.11 445.02 L289.12 444.87 L289.15 444.72 L289.18 444.57 L289.23 444.42 L289.28 444.27 L289.35 444.12 L289.42 443.97 L289.50 443.82 L289.59 443.67 L289.70 443.52 L289.81 443.38 L289.93 443.23 L290.06 443.09 L290.19 442.94 L290.34 442.80 L290.50 442.65 L290.66 442.51 L290.84 442.37 L291.02 442.23 L291.21 442.08 L291.41 441.95 L291.62 441.81 L291.84 441.67 L292.07 441.53 L292.30 441.40 L292.55 441.26 L292.80 441.13 L293.06 441.00 L293.33 440.87 L293.61 440.74 L293.90 440.61 L294.19 440.49 L294.49 440.36 L294.80 440.24 L295.12 440.12 L295.44 440.00 L295.77 439.88 L296.11 439.76 L296.46 439.64 L296.82 439.53 L297.18 439.42 L297.55 439.31 L297.92 439.20 L298.30 439.09 L298.69 438.99 L299.09 438.89 L299.49 438.78 L299.90 438.69 L300.31 438.59 L300.73 438.49 L301.16 438.40 L301.59 438.31 L302.03 438.22 L302.47 438.13 L302.92 438.05 L303.38 437.97 L303.84 437.89 L304.30 437.81 L304.77 437.73 L305.24 437.66 L305.72 437.59 L306.20 437.52 L306.69 437.45 L307.18 437.39 L307.68 437.33 L308.18 437.27 L308.68 437.21 L309.18 437.16 L309.69 437.11 L310.21 437.06 L310.72 437.01 L311.24 436.97 L311.76 436.94 L312.28 436.92 L312.81 436.92 L313.34 436.92 L313.86 436.93 L314.39 436.95 L314.93 436.98 L315.46 437.02 L315.99 437.07 L316.53 437.13 L317.06 437.20 L317.60 437.28 L318.13 437.36 L318.67 437.46 L319.21 437.56 L319.75 437.67 L320.28 437.79 L320.82 437.91 L321.35 438.05 L321.89 438.19 L322.42 438.34 L322.96 438.50 L323.49 438.66 L324.02 438.83 L324.55 439.01 L325.08 439.19 L325.60 439.38 L326.13 439.58 L326.65 439.79 L327.17 440.00 L327.69 440.21 L328.20 440.43 L328.72 440.66 L329.22 440.89 L329.73 441.13 L330.23 441.38 L330.73 441.62 L331.23 441.88 L331.72 442.14 L332.21 442.40 L332.70 442.67 L333.18 442.94 L333.66 443.21 L334.13 443.49 L334.60 443.77 L335.06 444.06 L335.52 444.35 L335.97 444.64 L336.42 444.94 L336.87 445.24 L337.31 445.54 L337.74 445.84 L338.17 446.15 L338.59 446.45 L339.01 446.76 L339.42 447.08 L339.82 447.39 L340.22 447.71 L340.61 448.02 L341.00 448.34 L341.38 448.66 L341.75 448.98 L342.12 449.30 L342.48 449.62 L342.83 449.94 L343.18 450.26 L343.51 450.58 L343.84 450.90 L344.17 451.22 L344.49 451.53 L344.79 451.85 L345.10 452.17 L345.39 452.48 L345.68 452.80 L345.95 453.11 L346.23 453.42 L346.49 453.73 L346.74 454.03 L346.99 454.34 L347.23 454.64 L347.46 454.93 L347.68 455.23 L347.89 455.52 L348.10 455.81 L348.29 456.09 L348.48 456.37 L348.66 456.65 L348.83 456.92 L349.00 457.19 L349.15 457.46 L349.29 457.71 L349.43 457.97 L349.56 458.22 L349.67 458.46 L349.78 458.70 L349.88 458.93 L349.98 459.16 L350.06 459.38 L350.13 459.59 L350.20 459.80 L350.25 460.00 L350.30 460.19 L350.34 460.38 L350.37 460.56 L350.39 460.73 L350.40 460.89 L350.40 461.05" stroke="#2e2e2e" stroke-width="5.5"/><path d="M289.10 445.17 L289.11 445.02 L289.12 444.87 L289.15 444.72 L289.18 444.57 L289.23 444.42 L289.28 444.27 L289.35 444.12 L289.42 443.97 L289.50 443.82 L289.59 443.67 L289.70 443.52 L289.81 443.38 L289.93 443.23 L290.06 443.09 L290.19 442.94 L290.34 442.80 L290.50 442.65 L290.66 442.51 L290.84 442.37 L291.02 442.23 L291.21 442.08 L291.41 441.95 L291.62 441.81 L291.84 441.67 L292.07 441.53 L292.30 441.40 L292.55 441.26 L292.80 441.13 L293.06 441.00 L293.33 440.87 L293.61 440.74 L293.90 440.61 L294.19 440.49 L294.49 440.36 L294.80 440.24 L295.12 440.12 L295.44 440.00 L295.77 439.88 L296.11 439.76 L296.46 439.64 L296.82 439.53 L297.18 439.42 L297.55 439.31 L297.92 439.20 L298.30 439.09 L298.69 438.99 L299.09 438.89 L299.49 438.78 L299.90 438.69 L300.31 438.59 L300.73 438.49 L301.16 438.40 L301.59 438.31 L302.03 438.22 L302.47 438.13 L302.92 438.05 L303.38 437.97 L303.84 437.89 L304.30 437.81 L304.77 437.73 L305.24 437.66 L305.72 437.59 L306.20 437.52 L306.69 437.45 L307.18 437.39 L307.68 437.33 L308.18 437.27 L308.68 437.21 L309.18 437.16 L309.69 437.11 L310.21 437.06 L310.72 437.01 L311.24 436.97 L311.76 436.94 L312.28 436.92 L312.81 436.92 L313.34 436.92 L313.86 436.93 L314.39 436.95 L314.93 436.98 L315.46 437.02 L315.99 437.07 L316.53 437.13 L317.06 437.20 L317.60 437.28 L318.13 437.36 L318.67 437.46 L319.21 437.56 L319.75 437.67 L320.28 437.79 L320.82 437.91 L321.35 438.05 L321.89 438.19 L322.42 438.34 L322.96 438.50 L323.49 438.66 L324.02 438.83 L324.55 439.01 L325.08 439.19 L325.60 439.38 L326.13 439.58 L326.65 439.79 L327.17 440.00 L327.69 440.21 L328.20 440.43 L328.72 440.66 L329.22 440.89 L329.73 441.13 L330.23 441.38 L330.73 441.62 L331.23 441.88 L331.72 442.14 L332.21 442.40 L332.70 442.67 L333.18 442.94 L333.66 443.21 L334.13 443.49 L334.60 443.77 L335.06 444.06 L335.52 444.35 L335.97 444.64 L336.42 444.94 L336.87 445.24 L337.31 445.54 L337.74 445.84 L338.17 446.15 L338.59 446.45 L339.01 446.76 L339.42 447.08 L339.82 447.39 L340.22 447.71 L340.61 448.02 L341.00 448.34 L341.38 448.66 L341.75 448.98 L342.12 449.30 L342.48 449.62 L342.83 449.94 L343.18 450.26 L343.51 450.58 L343.84 450.90 L344.17 451.22 L344.49 451.53 L344.79 451.85 L345.10 452.17 L345.39 452.48 L345.68 452.80 L345.95 453.11 L346.23 453.42 L346.49 453.73 L346.74 454.03 L346.99 454.34 L347.23 454.64 L347.46 454.93 L347.68 455.23 L347.89 455.52 L348.10 455.81 L348.29 456.09 L348.48 456.37 L348.66 456.65 L348.83 456.92 L349.00 457.19 L349.15 457.46 L349.29 457.71 L349.43 457.97 L349.56 458.22 L349.67 458.46 L349.78 458.70 L349.88 458.93 L349.98 459.16 L350.06 459.38 L350.13 459.59 L350.20 459.80 L350.25 460.00 L350.30 460.19 L350.34 460.38 L350.37 460.56 L350.39 460.73 L350.40 460.89 L350.40 461.05" stroke="#fff" stroke-width="2.8"/>
<path d="M288.40 460.94 L288.41 460.79 L288.43 460.64 L288.45 460.48 L288.49 460.33 L288.54 460.18 L288.59 460.02 L288.66 459.87 L288.73 459.72 L288.81 459.57 L288.91 459.42 L289.01 459.27 L289.12 459.12 L289.24 458.97 L289.37 458.82 L289.51 458.67 L289.66 458.52 L289.81 458.37 L289.98 458.23 L290.15 458.08 L290.34 457.94 L290.53 457.79 L290.73 457.65 L290.94 457.51 L291.16 457.37 L291.39 457.23 L291.63 457.09 L291.87 456.95 L292.12 456.82 L292.38 456.68 L292.65 456.55 L292.93 456.42 L293.22 456.29 L293.51 456.16 L293.81 456.03 L294.12 455.91 L294.44 455.78 L294.76 455.66 L295.10 455.54 L295.44 455.42 L295.78 455.30 L296.14 455.18 L296.50 455.07 L296.87 454.96 L297.24 454.85 L297.62 454.74 L298.01 454.63 L298.41 454.52 L298.81 454.42 L299.22 454.32 L299.63 454.22 L300.05 454.12 L300.48 454.03 L300.91 453.94 L301.34 453.85 L301.79 453.76 L302.24 453.67 L302.69 453.59 L303.15 453.51 L303.61 453.43 L304.08 453.35 L304.55 453.28 L305.03 453.20 L305.51 453.13 L306.00 453.07 L306.49 453.00 L306.98 452.94 L307.48 452.88 L307.98 452.82 L308.48 452.76 L308.99 452.71 L309.50 452.66 L310.02 452.61 L310.54 452.57 L311.05 452.55 L311.57 452.53 L312.10 452.52 L312.62 452.52 L313.15 452.53 L313.67 452.55 L314.20 452.58 L314.73 452.62 L315.26 452.67 L315.79 452.72 L316.32 452.79 L316.86 452.86 L317.39 452.95 L317.92 453.04 L318.45 453.14 L318.99 453.24 L319.52 453.36 L320.05 453.48 L320.58 453.61 L321.12 453.75 L321.65 453.89 L322.18 454.04 L322.70 454.20 L323.23 454.37 L323.76 454.54 L324.28 454.72 L324.80 454.91 L325.32 455.10 L325.84 455.30 L326.36 455.50 L326.88 455.71 L327.39 455.92 L327.90 456.14 L328.40 456.37 L328.91 456.60 L329.41 456.83 L329.91 457.07 L330.40 457.32 L330.89 457.57 L331.38 457.82 L331.87 458.08 L332.35 458.34 L332.82 458.60 L333.30 458.87 L333.76 459.14 L334.23 459.41 L334.69 459.69 L335.14 459.97 L335.59 460.25 L336.04 460.54 L336.48 460.82 L336.91 461.11 L337.34 461.40 L337.77 461.70 L338.18 461.99 L338.60 462.28 L339.00 462.58 L339.40 462.88 L339.80 463.18 L340.19 463.48 L340.57 463.77 L340.94 464.07 L341.31 464.37 L341.68 464.67 L342.03 464.97 L342.38 465.27 L342.72 465.57 L343.06 465.87 L343.38 466.16 L343.71 466.46 L344.02 466.75 L344.32 467.05 L344.62 467.34 L344.91 467.63 L345.19 467.91 L345.47 468.20 L345.73 468.48 L345.99 468.76 L346.24 469.04 L346.48 469.31 L346.72 469.59 L346.94 469.85 L347.16 470.12 L347.37 470.38 L347.57 470.64 L347.76 470.89 L347.94 471.14 L348.11 471.39 L348.28 471.63 L348.44 471.87 L348.58 472.10 L348.72 472.33 L348.85 472.55 L348.97 472.77 L349.08 472.98 L349.18 473.19 L349.28 473.39 L349.36 473.58 L349.43 473.77 L349.50 473.96 L349.56 474.13 L349.60 474.30 L349.64 474.47 L349.67 474.63 L349.69 474.78 L349.70 474.92 L349.70 475.06" stroke="#2e2e2e" stroke-width="5.5"/><path d="M288.40 460.94 L288.41 460.79 L288.43 460.64 L288.45 460.48 L288.49 460.33 L288.54 460.18 L288.59 460.02 L288.66 459.87 L288.73 459.72 L288.81 459.57 L288.91 459.42 L289.01 459.27 L289.12 459.12 L289.24 458.97 L289.37 458.82 L289.51 458.67 L289.66 458.52 L289.81 458.37 L289.98 458.23 L290.15 458.08 L290.34 457.94 L290.53 457.79 L290.73 457.65 L290.94 457.51 L291.16 457.37 L291.39 457.23 L291.63 457.09 L291.87 456.95 L292.12 456.82 L292.38 456.68 L292.65 456.55 L292.93 456.42 L293.22 456.29 L293.51 456.16 L293.81 456.03 L294.12 455.91 L294.44 455.78 L294.76 455.66 L295.10 455.54 L295.44 455.42 L295.78 455.30 L296.14 455.18 L296.50 455.07 L296.87 454.96 L297.24 454.85 L297.62 454.74 L298.01 454.63 L298.41 454.52 L298.81 454.42 L299.22 454.32 L299.63 454.22 L300.05 454.12 L300.48 454.03 L300.91 453.94 L301.34 453.85 L301.79 453.76 L302.24 453.67 L302.69 453.59 L303.15 453.51 L303.61 453.43 L304.08 453.35 L304.55 453.28 L305.03 453.20 L305.51 453.13 L306.00 453.07 L306.49 453.00 L306.98 452.94 L307.48 452.88 L307.98 452.82 L308.48 452.76 L308.99 452.71 L309.50 452.66 L310.02 452.61 L310.54 452.57 L311.05 452.55 L311.57 452.53 L312.10 452.52 L312.62 452.52 L313.15 452.53 L313.67 452.55 L314.20 452.58 L314.73 452.62 L315.26 452.67 L315.79 452.72 L316.32 452.79 L316.86 452.86 L317.39 452.95 L317.92 453.04 L318.45 453.14 L318.99 453.24 L319.52 453.36 L320.05 453.48 L320.58 453.61 L321.12 453.75 L321.65 453.89 L322.18 454.04 L322.70 454.20 L323.23 454.37 L323.76 454.54 L324.28 454.72 L324.80 454.91 L325.32 455.10 L325.84 455.30 L326.36 455.50 L326.88 455.71 L327.39 455.92 L327.90 456.14 L328.40 456.37 L328.91 456.60 L329.41 456.83 L329.91 457.07 L330.40 457.32 L330.89 457.57 L331.38 457.82 L331.87 458.08 L332.35 458.34 L332.82 458.60 L333.30 458.87 L333.76 459.14 L334.23 459.41 L334.69 459.69 L335.14 459.97 L335.59 460.25 L336.04 460.54 L336.48 460.82 L336.91 461.11 L337.34 461.40 L337.77 461.70 L338.18 461.99 L338.60 462.28 L339.00 462.58 L339.40 462.88 L339.80 463.18 L340.19 463.48 L340.57 463.77 L340.94 464.07 L341.31 464.37 L341.68 464.67 L342.03 464.97 L342.38 465.27 L342.72 465.57 L343.06 465.87 L343.38 466.16 L343.71 466.46 L344.02 466.75 L344.32 467.05 L344.62 467.34 L344.91 467.63 L345.19 467.91 L345.47 468.20 L345.73 468.48 L345.99 468.76 L346.24 469.04 L346.48 469.31 L346.72 469.59 L346.94 469.85 L347.16 470.12 L347.37 470.38 L347.57 470.64 L347.76 470.89 L347.94 471.14 L348.11 471.39 L348.28 471.63 L348.44 471.87 L348.58 472.10 L348.72 472.33 L348.85 472.55 L348.97 472.77 L349.08 472.98 L349.18 473.19 L349.28 473.39 L349.36 473.58 L349.43 473.77 L349.50 473.96 L349.56 474.13 L349.60 474.30 L349.64 474.47 L349.67 474.63 L349.69 474.78 L349.70 474.92 L349.70 475.06" stroke="#fff" stroke-width="2.8"/>
<path d="M286.70 474.93 L286.71 474.80 L286.73 474.66 L286.76 474.53 L286.80 474.39 L286.84 474.25 L286.90 474.12 L286.97 473.98 L287.05 473.85 L287.13 473.71 L287.23 473.58 L287.33 473.45 L287.45 473.31 L287.57 473.18 L287.70 473.05 L287.84 472.92 L288.00 472.79 L288.16 472.66 L288.33 472.53 L288.51 472.40 L288.69 472.27 L288.89 472.14 L289.10 472.02 L289.31 471.89 L289.54 471.77 L289.77 471.64 L290.01 471.52 L290.26 471.40 L290.52 471.28 L290.78 471.16 L291.06 471.04 L291.34 470.92 L291.63 470.81 L291.93 470.69 L292.24 470.58 L292.56 470.47 L292.88 470.36 L293.21 470.25 L293.55 470.14 L293.89 470.04 L294.25 469.93 L294.61 469.83 L294.98 469.73 L295.35 469.63 L295.73 469.53 L296.12 469.44 L296.52 469.34 L296.92 469.25 L297.33 469.16 L297.74 469.07 L298.17 468.98 L298.59 468.90 L299.03 468.81 L299.47 468.73 L299.91 468.65 L300.36 468.57 L300.82 468.50 L301.28 468.42 L301.75 468.35 L302.22 468.28 L302.69 468.21 L303.17 468.14 L303.66 468.08 L304.15 468.02 L304.64 467.96 L305.14 467.90 L305.65 467.85 L306.15 467.79 L306.66 467.74 L307.18 467.69 L307.69 467.65 L308.21 467.60 L308.73 467.56 L309.26 467.53 L309.79 467.50 L310.32 467.49 L310.85 467.48 L311.38 467.48 L311.92 467.49 L312.46 467.51 L312.99 467.54 L313.53 467.57 L314.07 467.61 L314.62 467.66 L315.16 467.72 L315.70 467.78 L316.24 467.86 L316.79 467.94 L317.33 468.02 L317.87 468.12 L318.42 468.22 L318.96 468.32 L319.50 468.44 L320.04 468.56 L320.58 468.68 L321.12 468.82 L321.66 468.96 L322.19 469.10 L322.73 469.25 L323.26 469.41 L323.79 469.57 L324.32 469.74 L324.85 469.91 L325.37 470.09 L325.89 470.27 L326.41 470.46 L326.93 470.65 L327.44 470.85 L327.95 471.05 L328.46 471.26 L328.96 471.47 L329.46 471.68 L329.96 471.90 L330.45 472.12 L330.94 472.35 L331.42 472.58 L331.90 472.81 L332.38 473.04 L332.85 473.28 L333.32 473.52 L333.78 473.77 L334.23 474.01 L334.68 474.26 L335.13 474.51 L335.57 474.77 L336.01 475.02 L336.43 475.28 L336.86 475.54 L337.28 475.80 L337.69 476.06 L338.09 476.32 L338.49 476.58 L338.88 476.85 L339.27 477.11 L339.65 477.38 L340.02 477.65 L340.39 477.91 L340.75 478.18 L341.10 478.45 L341.45 478.71 L341.78 478.98 L342.12 479.24 L342.44 479.51 L342.75 479.77 L343.06 480.03 L343.36 480.30 L343.66 480.56 L343.94 480.82 L344.22 481.07 L344.49 481.33 L344.75 481.58 L345.00 481.83 L345.25 482.08 L345.48 482.33 L345.71 482.58 L345.93 482.82 L346.14 483.06 L346.35 483.29 L346.54 483.53 L346.73 483.76 L346.91 483.98 L347.08 484.21 L347.24 484.43 L347.39 484.64 L347.53 484.85 L347.66 485.06 L347.79 485.26 L347.90 485.46 L348.01 485.66 L348.11 485.84 L348.20 486.03 L348.28 486.21 L348.35 486.38 L348.41 486.55 L348.47 486.71 L348.51 486.87 L348.55 487.02 L348.57 487.17 L348.59 487.31 L348.60 487.44 L348.60 487.57" stroke="#2e2e2e" stroke-width="5.5"/><path d="M286.70 474.93 L286.71 474.80 L286.73 474.66 L286.76 474.53 L286.80 474.39 L286.84 474.25 L286.90 474.12 L286.97 473.98 L287.05 473.85 L287.13 473.71 L287.23 473.58 L287.33 473.45 L287.45 473.31 L287.57 473.18 L287.70 473.05 L287.84 472.92 L288.00 472.79 L288.16 472.66 L288.33 472.53 L288.51 472.40 L288.69 472.27 L288.89 472.14 L289.10 472.02 L289.31 471.89 L289.54 471.77 L289.77 471.64 L290.01 471.52 L290.26 471.40 L290.52 471.28 L290.78 471.16 L291.06 471.04 L291.34 470.92 L291.63 470.81 L291.93 470.69 L292.24 470.58 L292.56 470.47 L292.88 470.36 L293.21 470.25 L293.55 470.14 L293.89 470.04 L294.25 469.93 L294.61 469.83 L294.98 469.73 L295.35 469.63 L295.73 469.53 L296.12 469.44 L296.52 469.34 L296.92 469.25 L297.33 469.16 L297.74 469.07 L298.17 468.98 L298.59 468.90 L299.03 468.81 L299.47 468.73 L299.91 468.65 L300.36 468.57 L300.82 468.50 L301.28 468.42 L301.75 468.35 L302.22 468.28 L302.69 468.21 L303.17 468.14 L303.66 468.08 L304.15 468.02 L304.64 467.96 L305.14 467.90 L305.65 467.85 L306.15 467.79 L306.66 467.74 L307.18 467.69 L307.69 467.65 L308.21 467.60 L308.73 467.56 L309.26 467.53 L309.79 467.50 L310.32 467.49 L310.85 467.48 L311.38 467.48 L311.92 467.49 L312.46 467.51 L312.99 467.54 L313.53 467.57 L314.07 467.61 L314.62 467.66 L315.16 467.72 L315.70 467.78 L316.24 467.86 L316.79 467.94 L317.33 468.02 L317.87 468.12 L318.42 468.22 L318.96 468.32 L319.50 468.44 L320.04 468.56 L320.58 468.68 L321.12 468.82 L321.66 468.96 L322.19 469.10 L322.73 469.25 L323.26 469.41 L323.79 469.57 L324.32 469.74 L324.85 469.91 L325.37 470.09 L325.89 470.27 L326.41 470.46 L326.93 470.65 L327.44 470.85 L327.95 471.05 L328.46 471.26 L328.96 471.47 L329.46 471.68 L329.96 471.90 L330.45 472.12 L330.94 472.35 L331.42 472.58 L331.90 472.81 L332.38 473.04 L332.85 473.28 L333.32 473.52 L333.78 473.77 L334.23 474.01 L334.68 474.26 L335.13 474.51 L335.57 474.77 L336.01 475.02 L336.43 475.28 L336.86 475.54 L337.28 475.80 L337.69 476.06 L338.09 476.32 L338.49 476.58 L338.88 476.85 L339.27 477.11 L339.65 477.38 L340.02 477.65 L340.39 477.91 L340.75 478.18 L341.10 478.45 L341.45 478.71 L341.78 478.98 L342.12 479.24 L342.44 479.51 L342.75 479.77 L343.06 480.03 L343.36 480.30 L343.66 480.56 L343.94 480.82 L344.22 481.07 L344.49 481.33 L344.75 481.58 L345.00 481.83 L345.25 482.08 L345.48 482.33 L345.71 482.58 L345.93 482.82 L346.14 483.06 L346.35 483.29 L346.54 483.53 L346.73 483.76 L346.91 483.98 L347.08 484.21 L347.24 484.43 L347.39 484.64 L347.53 484.85 L347.66 485.06 L347.79 485.26 L347.90 485.46 L348.01 485.66 L348.11 485.84 L348.20 486.03 L348.28 486.21 L348.35 486.38 L348.41 486.55 L348.47 486.71 L348.51 486.87 L348.55 487.02 L348.57 487.17 L348.59 487.31 L348.60 487.44 L348.60 487.57" stroke="#fff" stroke-width="2.8"/>
<path d="M286.00 487.42 L286.01 487.29 L286.03 487.17 L286.06 487.04 L286.10 486.91 L286.15 486.79 L286.21 486.66 L286.28 486.53 L286.35 486.41 L286.44 486.28 L286.54 486.15 L286.64 486.03 L286.76 485.90 L286.88 485.78 L287.01 485.66 L287.16 485.53 L287.31 485.41 L287.47 485.29 L287.64 485.17 L287.82 485.05 L288.01 484.93 L288.20 484.81 L288.41 484.69 L288.62 484.57 L288.85 484.46 L289.08 484.34 L289.32 484.23 L289.57 484.11 L289.83 484.00 L290.09 483.89 L290.37 483.78 L290.65 483.67 L290.94 483.56 L291.24 483.46 L291.54 483.35 L291.86 483.25 L292.18 483.14 L292.51 483.04 L292.85 482.94 L293.19 482.84 L293.55 482.75 L293.91 482.65 L294.27 482.56 L294.65 482.46 L295.03 482.37 L295.41 482.28 L295.81 482.19 L296.21 482.11 L296.61 482.02 L297.03 481.94 L297.45 481.86 L297.87 481.78 L298.30 481.70 L298.74 481.62 L299.18 481.55 L299.63 481.47 L300.09 481.40 L300.55 481.33 L301.01 481.27 L301.48 481.20 L301.95 481.14 L302.43 481.08 L302.91 481.02 L303.40 480.96 L303.89 480.90 L304.39 480.85 L304.89 480.80 L305.39 480.75 L305.90 480.70 L306.41 480.66 L306.92 480.61 L307.44 480.57 L307.96 480.53 L308.48 480.50 L309.01 480.48 L309.54 480.47 L310.06 480.46 L310.60 480.46 L311.13 480.47 L311.66 480.49 L312.20 480.51 L312.73 480.54 L313.27 480.58 L313.81 480.62 L314.35 480.68 L314.89 480.73 L315.43 480.80 L315.97 480.87 L316.51 480.95 L317.05 481.04 L317.59 481.13 L318.13 481.22 L318.67 481.33 L319.21 481.44 L319.75 481.55 L320.29 481.67 L320.82 481.80 L321.36 481.93 L321.89 482.07 L322.43 482.21 L322.96 482.36 L323.49 482.52 L324.01 482.68 L324.54 482.84 L325.06 483.01 L325.58 483.18 L326.10 483.36 L326.61 483.54 L327.12 483.73 L327.63 483.92 L328.14 484.12 L328.64 484.32 L329.14 484.52 L329.63 484.73 L330.13 484.94 L330.61 485.16 L331.10 485.37 L331.57 485.60 L332.05 485.82 L332.52 486.05 L332.99 486.28 L333.45 486.52 L333.90 486.76 L334.35 487.00 L334.80 487.24 L335.24 487.48 L335.67 487.73 L336.10 487.98 L336.53 488.24 L336.94 488.49 L337.35 488.75 L337.76 489.00 L338.16 489.26 L338.55 489.52 L338.94 489.79 L339.32 490.05 L339.69 490.31 L340.06 490.58 L340.42 490.85 L340.77 491.11 L341.11 491.38 L341.45 491.65 L341.78 491.92 L342.10 492.18 L342.42 492.45 L342.73 492.72 L343.03 492.99 L343.32 493.25 L343.60 493.52 L343.88 493.78 L344.15 494.05 L344.41 494.31 L344.66 494.57 L344.90 494.83 L345.14 495.09 L345.36 495.34 L345.58 495.60 L345.79 495.85 L345.99 496.10 L346.18 496.35 L346.36 496.59 L346.54 496.83 L346.70 497.07 L346.86 497.30 L347.00 497.53 L347.14 497.76 L347.27 497.99 L347.39 498.21 L347.50 498.42 L347.60 498.63 L347.69 498.84 L347.78 499.04 L347.85 499.23 L347.91 499.43 L347.97 499.61 L348.01 499.79 L348.05 499.97 L348.07 500.13 L348.09 500.30 L348.10 500.45 L348.10 500.60" stroke="#2e2e2e" stroke-width="5.5"/><path d="M286.00 487.42 L286.01 487.29 L286.03 487.17 L286.06 487.04 L286.10 486.91 L286.15 486.79 L286.21 486.66 L286.28 486.53 L286.35 486.41 L286.44 486.28 L286.54 486.15 L286.64 486.03 L286.76 485.90 L286.88 485.78 L287.01 485.66 L287.16 485.53 L287.31 485.41 L287.47 485.29 L287.64 485.17 L287.82 485.05 L288.01 484.93 L288.20 484.81 L288.41 484.69 L288.62 484.57 L288.85 484.46 L289.08 484.34 L289.32 484.23 L289.57 484.11 L289.83 484.00 L290.09 483.89 L290.37 483.78 L290.65 483.67 L290.94 483.56 L291.24 483.46 L291.54 483.35 L291.86 483.25 L292.18 483.14 L292.51 483.04 L292.85 482.94 L293.19 482.84 L293.55 482.75 L293.91 482.65 L294.27 482.56 L294.65 482.46 L295.03 482.37 L295.41 482.28 L295.81 482.19 L296.21 482.11 L296.61 482.02 L297.03 481.94 L297.45 481.86 L297.87 481.78 L298.30 481.70 L298.74 481.62 L299.18 481.55 L299.63 481.47 L300.09 481.40 L300.55 481.33 L301.01 481.27 L301.48 481.20 L301.95 481.14 L302.43 481.08 L302.91 481.02 L303.40 480.96 L303.89 480.90 L304.39 480.85 L304.89 480.80 L305.39 480.75 L305.90 480.70 L306.41 480.66 L306.92 480.61 L307.44 480.57 L307.96 480.53 L308.48 480.50 L309.01 480.48 L309.54 480.47 L310.06 480.46 L310.60 480.46 L311.13 480.47 L311.66 480.49 L312.20 480.51 L312.73 480.54 L313.27 480.58 L313.81 480.62 L314.35 480.68 L314.89 480.73 L315.43 480.80 L315.97 480.87 L316.51 480.95 L317.05 481.04 L317.59 481.13 L318.13 481.22 L318.67 481.33 L319.21 481.44 L319.75 481.55 L320.29 481.67 L320.82 481.80 L321.36 481.93 L321.89 482.07 L322.43 482.21 L322.96 482.36 L323.49 482.52 L324.01 482.68 L324.54 482.84 L325.06 483.01 L325.58 483.18 L326.10 483.36 L326.61 483.54 L327.12 483.73 L327.63 483.92 L328.14 484.12 L328.64 484.32 L329.14 484.52 L329.63 484.73 L330.13 484.94 L330.61 485.16 L331.10 485.37 L331.57 485.60 L332.05 485.82 L332.52 486.05 L332.99 486.28 L333.45 486.52 L333.90 486.76 L334.35 487.00 L334.80 487.24 L335.24 487.48 L335.67 487.73 L336.10 487.98 L336.53 488.24 L336.94 488.49 L337.35 488.75 L337.76 489.00 L338.16 489.26 L338.55 489.52 L338.94 489.79 L339.32 490.05 L339.69 490.31 L340.06 490.58 L340.42 490.85 L340.77 491.11 L341.11 491.38 L341.45 491.65 L341.78 491.92 L342.10 492.18 L342.42 492.45 L342.73 492.72 L343.03 492.99 L343.32 493.25 L343.60 493.52 L343.88 493.78 L344.15 494.05 L344.41 494.31 L344.66 494.57 L344.90 494.83 L345.14 495.09 L345.36 495.34 L345.58 495.60 L345.79 495.85 L345.99 496.10 L346.18 496.35 L346.36 496.59 L346.54 496.83 L346.70 497.07 L346.86 497.30 L347.00 497.53 L347.14 497.76 L347.27 497.99 L347.39 498.21 L347.50 498.42 L347.60 498.63 L347.69 498.84 L347.78 499.04 L347.85 499.23 L347.91 499.43 L347.97 499.61 L348.01 499.79 L348.05 499.97 L348.07 500.13 L348.09 500.30 L348.10 500.45 L348.10 500.60" stroke="#fff" stroke-width="2.8"/>
<path d="M284.90 500.39 L284.91 500.24 L284.94 500.09 L284.97 499.94 L285.01 499.79 L285.06 499.64 L285.12 499.49 L285.19 499.34 L285.27 499.19 L285.36 499.04 L285.45 498.90 L285.56 498.75 L285.68 498.60 L285.81 498.46 L285.94 498.31 L286.09 498.17 L286.24 498.02 L286.40 497.88 L286.58 497.74 L286.76 497.59 L286.95 497.45 L287.15 497.31 L287.36 497.17 L287.58 497.04 L287.80 496.90 L288.04 496.76 L288.28 496.63 L288.54 496.50 L288.80 496.36 L289.07 496.23 L289.34 496.10 L289.63 495.97 L289.93 495.85 L290.23 495.72 L290.54 495.60 L290.86 495.47 L291.18 495.35 L291.52 495.23 L291.86 495.12 L292.21 495.00 L292.56 494.89 L292.93 494.77 L293.30 494.66 L293.68 494.55 L294.06 494.44 L294.45 494.34 L294.85 494.23 L295.26 494.13 L295.67 494.03 L296.09 493.93 L296.51 493.84 L296.94 493.75 L297.38 493.65 L297.82 493.56 L298.27 493.48 L298.72 493.39 L299.18 493.31 L299.64 493.23 L300.11 493.15 L300.59 493.07 L301.07 493.00 L301.55 492.92 L302.04 492.85 L302.53 492.79 L303.03 492.72 L303.53 492.66 L304.04 492.60 L304.54 492.54 L305.06 492.48 L305.57 492.43 L306.09 492.38 L306.61 492.33 L307.14 492.29 L307.67 492.24 L308.20 492.20 L308.73 492.16 L309.27 492.13 L309.81 492.10 L310.35 492.06 L310.89 492.04 L311.43 492.01 L311.98 491.99 L312.53 491.97 L313.07 491.95 L313.62 491.94 L314.17 491.92 L314.72 491.91 L315.27 491.91 L315.83 491.90 L316.38 491.90 L316.93 491.90 L317.48 491.90 L318.03 491.91 L318.58 491.92 L319.13 491.93 L319.68 491.94 L320.23 491.96 L320.78 491.98 L321.32 492.00 L321.87 492.02 L322.41 492.05 L322.95 492.08 L323.49 492.11 L324.03 492.15 L324.56 492.18 L325.09 492.22 L325.62 492.27 L326.15 492.31 L326.68 492.36 L327.20 492.41 L327.71 492.46 L328.23 492.51 L328.74 492.57 L329.24 492.63 L329.75 492.69 L330.25 492.76 L330.74 492.82 L331.23 492.89 L331.72 492.96 L332.20 493.04 L332.67 493.11 L333.15 493.19 L333.61 493.27 L334.07 493.35 L334.53 493.44 L334.98 493.52 L335.42 493.61 L335.86 493.70 L336.30 493.80 L336.72 493.89 L337.14 493.99 L337.56 494.09 L337.97 494.19 L338.37 494.29 L338.76 494.40 L339.15 494.50 L339.53 494.61 L339.91 494.72 L340.27 494.83 L340.63 494.95 L340.99 495.06 L341.33 495.18 L341.67 495.30 L342.00 495.42 L342.32 495.54 L342.63 495.67 L342.94 495.79 L343.24 495.92 L343.53 496.04 L343.81 496.17 L344.08 496.30 L344.35 496.44 L344.61 496.57 L344.85 496.70 L345.09 496.84" stroke="#2e2e2e" stroke-width="5.5"/><path d="M284.90 500.39 L284.91 500.24 L284.94 500.09 L284.97 499.94 L285.01 499.79 L285.06 499.64 L285.12 499.49 L285.19 499.34 L285.27 499.19 L285.36 499.04 L285.45 498.90 L285.56 498.75 L285.68 498.60 L285.81 498.46 L285.94 498.31 L286.09 498.17 L286.24 498.02 L286.40 497.88 L286.58 497.74 L286.76 497.59 L286.95 497.45 L287.15 497.31 L287.36 497.17 L287.58 497.04 L287.80 496.90 L288.04 496.76 L288.28 496.63 L288.54 496.50 L288.80 496.36 L289.07 496.23 L289.34 496.10 L289.63 495.97 L289.93 495.85 L290.23 495.72 L290.54 495.60 L290.86 495.47 L291.18 495.35 L291.52 495.23 L291.86 495.12 L292.21 495.00 L292.56 494.89 L292.93 494.77 L293.30 494.66 L293.68 494.55 L294.06 494.44 L294.45 494.34 L294.85 494.23 L295.26 494.13 L295.67 494.03 L296.09 493.93 L296.51 493.84 L296.94 493.75 L297.38 493.65 L297.82 493.56 L298.27 493.48 L298.72 493.39 L299.18 493.31 L299.64 493.23 L300.11 493.15 L300.59 493.07 L301.07 493.00 L301.55 492.92 L302.04 492.85 L302.53 492.79 L303.03 492.72 L303.53 492.66 L304.04 492.60 L304.54 492.54 L305.06 492.48 L305.57 492.43 L306.09 492.38 L306.61 492.33 L307.14 492.29 L307.67 492.24 L308.20 492.20 L308.73 492.16 L309.27 492.13 L309.81 492.10 L310.35 492.06 L310.89 492.04 L311.43 492.01 L311.98 491.99 L312.53 491.97 L313.07 491.95 L313.62 491.94 L314.17 491.92 L314.72 491.91 L315.27 491.91 L315.83 491.90 L316.38 491.90 L316.93 491.90 L317.48 491.90 L318.03 491.91 L318.58 491.92 L319.13 491.93 L319.68 491.94 L320.23 491.96 L320.78 491.98 L321.32 492.00 L321.87 492.02 L322.41 492.05 L322.95 492.08 L323.49 492.11 L324.03 492.15 L324.56 492.18 L325.09 492.22 L325.62 492.27 L326.15 492.31 L326.68 492.36 L327.20 492.41 L327.71 492.46 L328.23 492.51 L328.74 492.57 L329.24 492.63 L329.75 492.69 L330.25 492.76 L330.74 492.82 L331.23 492.89 L331.72 492.96 L332.20 493.04 L332.67 493.11 L333.15 493.19 L333.61 493.27 L334.07 493.35 L334.53 493.44 L334.98 493.52 L335.42 493.61 L335.86 493.70 L336.30 493.80 L336.72 493.89 L337.14 493.99 L337.56 494.09 L337.97 494.19 L338.37 494.29 L338.76 494.40 L339.15 494.50 L339.53 494.61 L339.91 494.72 L340.27 494.83 L340.63 494.95 L340.99 495.06 L341.33 495.18 L341.67 495.30 L342.00 495.42 L342.32 495.54 L342.63 495.67 L342.94 495.79 L343.24 495.92 L343.53 496.04 L343.81 496.17 L344.08 496.30 L344.35 496.44 L344.61 496.57 L344.85 496.70 L345.09 496.84" stroke="#fff" stroke-width="2.8"/>
<path d="M348.10 500.60 L348.09 500.75 L348.07 500.90 L348.03 501.05 L347.99 501.20 L347.94 501.35 L347.89 501.50 L347.82 501.65 L347.74 501.80 L347.65 501.95 L347.55 502.09 L347.45 502.24 L347.33 502.39 L347.20 502.53 L347.07 502.68 L346.92 502.83 L346.77 502.97 L346.61 503.11 L346.43 503.26 L346.25 503.40 L346.06 503.54 L345.86 503.68 L345.65 503.82 L345.44 503.96 L345.21 504.09 L344.98 504.23 L344.73 504.36 L344.48 504.50 L344.22 504.63 L343.95 504.76 L343.67 504.89 L343.39 505.02 L343.09 505.15 L342.79 505.27 L342.48 505.39 L342.16 505.52 L341.84 505.64 L341.50 505.76 L341.16 505.88 L340.81 505.99 L340.46 506.11 L340.10 506.22 L339.72 506.33 L339.35 506.44 L338.96 506.55 L338.57 506.65 L338.17 506.76 L337.77 506.86 L337.36 506.96 L336.94 507.06 L336.52 507.15 L336.09 507.25 L335.65 507.34 L335.21 507.43 L334.76 507.52 L334.31 507.60 L333.85 507.69 L333.38 507.77 L332.92 507.85 L332.44 507.93 L331.96 508.00 L331.48 508.07 L330.99 508.14 L330.50 508.21 L330.00 508.28 L329.50 508.34 L329.00 508.40 L328.49 508.46 L327.98 508.51 L327.46 508.57 L326.94 508.62 L326.42 508.67 L325.89 508.71 L325.37 508.75 L324.83 508.80 L324.30 508.83 L323.77 508.87 L323.23 508.90 L322.69 508.93 L322.15 508.96 L321.60 508.99 L321.06 509.01 L320.51 509.03 L319.96 509.05 L319.41 509.06 L318.86 509.08 L318.31 509.09 L317.76 509.09 L317.21 509.10 L316.66 509.10 L316.11 509.10 L315.56 509.10 L315.00 509.09 L314.45 509.08 L313.90 509.07 L313.35 509.06 L312.80 509.04 L312.26 509.02 L311.71 509.00 L311.17 508.98 L310.62 508.95 L310.08 508.92 L309.54 508.89 L309.01 508.85 L308.47 508.82 L307.94 508.78 L307.41 508.74 L306.88 508.69 L306.36 508.65 L305.84 508.60 L305.32 508.54 L304.81 508.49 L304.29 508.43 L303.79 508.37 L303.28 508.31 L302.79 508.25 L302.29 508.18 L301.80 508.11 L301.31 508.04 L300.83 507.97 L300.36 507.89 L299.88 507.82 L299.42 507.74 L298.96 507.65 L298.50 507.57 L298.05 507.48 L297.60 507.39 L297.16 507.30 L296.73 507.21 L296.30 507.11 L295.88 507.02 L295.47 506.92 L295.06 506.82 L294.66 506.71 L294.26 506.61 L293.87 506.50 L293.49 506.39 L293.12 506.28 L292.75 506.17 L292.39 506.06 L292.04 505.94 L291.69 505.83 L291.35 505.71 L291.02 505.59 L290.70 505.47 L290.39 505.34 L290.08 505.22 L289.78 505.09 L289.49 504.96 L289.21 504.83 L288.93 504.70 L288.67 504.57 L288.41 504.44 L288.16 504.31 L287.92 504.17 L287.69 504.03 L287.47 503.90 L287.26 503.76 L287.05 503.62 L286.86 503.48 L286.67 503.34 L286.49 503.19 L286.32 503.05 L286.16 502.91 L286.01 502.76 L285.87 502.62 L285.74 502.47 L285.62 502.33 L285.51 502.18 L285.41 502.03 L285.31 501.88 L285.23 501.74 L285.15 501.59 L285.09 501.44 L285.03 501.29 L284.99 501.14 L284.95 500.99 L284.92 500.84 L284.91 500.69 L284.90 500.54 L284.90 500.39" stroke="#2e2e2e" stroke-width="5.5"/><path d="M348.10 500.60 L348.09 500.75 L348.07 500.90 L348.03 501.05 L347.99 501.20 L347.94 501.35 L347.89 501.50 L347.82 501.65 L347.74 501.80 L347.65 501.95 L347.55 502.09 L347.45 502.24 L347.33 502.39 L347.20 502.53 L347.07 502.68 L346.92 502.83 L346.77 502.97 L346.61 503.11 L346.43 503.26 L346.25 503.40 L346.06 503.54 L345.86 503.68 L345.65 503.82 L345.44 503.96 L345.21 504.09 L344.98 504.23 L344.73 504.36 L344.48 504.50 L344.22 504.63 L343.95 504.76 L343.67 504.89 L343.39 505.02 L343.09 505.15 L342.79 505.27 L342.48 505.39 L342.16 505.52 L341.84 505.64 L341.50 505.76 L341.16 505.88 L340.81 505.99 L340.46 506.11 L340.10 506.22 L339.72 506.33 L339.35 506.44 L338.96 506.55 L338.57 506.65 L338.17 506.76 L337.77 506.86 L337.36 506.96 L336.94 507.06 L336.52 507.15 L336.09 507.25 L335.65 507.34 L335.21 507.43 L334.76 507.52 L334.31 507.60 L333.85 507.69 L333.38 507.77 L332.92 507.85 L332.44 507.93 L331.96 508.00 L331.48 508.07 L330.99 508.14 L330.50 508.21 L330.00 508.28 L329.50 508.34 L329.00 508.40 L328.49 508.46 L327.98 508.51 L327.46 508.57 L326.94 508.62 L326.42 508.67 L325.89 508.71 L325.37 508.75 L324.83 508.80 L324.30 508.83 L323.77 508.87 L323.23 508.90 L322.69 508.93 L322.15 508.96 L321.60 508.99 L321.06 509.01 L320.51 509.03 L319.96 509.05 L319.41 509.06 L318.86 509.08 L318.31 509.09 L317.76 509.09 L317.21 509.10 L316.66 509.10 L316.11 509.10 L315.56 509.10 L315.00 509.09 L314.45 509.08 L313.90 509.07 L313.35 509.06 L312.80 509.04 L312.26 509.02 L311.71 509.00 L311.17 508.98 L310.62 508.95 L310.08 508.92 L309.54 508.89 L309.01 508.85 L308.47 508.82 L307.94 508.78 L307.41 508.74 L306.88 508.69 L306.36 508.65 L305.84 508.60 L305.32 508.54 L304.81 508.49 L304.29 508.43 L303.79 508.37 L303.28 508.31 L302.79 508.25 L302.29 508.18 L301.80 508.11 L301.31 508.04 L300.83 507.97 L300.36 507.89 L299.88 507.82 L299.42 507.74 L298.96 507.65 L298.50 507.57 L298.05 507.48 L297.60 507.39 L297.16 507.30 L296.73 507.21 L296.30 507.11 L295.88 507.02 L295.47 506.92 L295.06 506.82 L294.66 506.71 L294.26 506.61 L293.87 506.50 L293.49 506.39 L293.12 506.28 L292.75 506.17 L292.39 506.06 L292.04 505.94 L291.69 505.83 L291.35 505.71 L291.02 505.59 L290.70 505.47 L290.39 505.34 L290.08 505.22 L289.78 505.09 L289.49 504.96 L289.21 504.83 L288.93 504.70 L288.67 504.57 L288.41 504.44 L288.16 504.31 L287.92 504.17 L287.69 504.03 L287.47 503.90 L287.26 503.76 L287.05 503.62 L286.86 503.48 L286.67 503.34 L286.49 503.19 L286.32 503.05 L286.16 502.91 L286.01 502.76 L285.87 502.62 L285.74 502.47 L285.62 502.33 L285.51 502.18 L285.41 502.03 L285.31 501.88 L285.23 501.74 L285.15 501.59 L285.09 501.44 L285.03 501.29 L284.99 501.14 L284.95 500.99 L284.92 500.84 L284.91 500.69 L284.90 500.54 L284.90 500.39" stroke="#fff" stroke-width="2.8"/>
<path d="M348.60 487.57 L348.59 487.70 L348.57 487.83 L348.54 487.95 L348.50 488.08 L348.45 488.21 L348.40 488.33 L348.33 488.46 L348.25 488.59 L348.17 488.71 L348.07 488.84 L347.97 488.96 L347.85 489.09 L347.73 489.21 L347.60 489.33 L347.45 489.46 L347.30 489.58 L347.14 489.70 L346.97 489.82 L346.79 489.94 L346.61 490.06 L346.41 490.18 L346.20 490.30 L345.99 490.42 L345.77 490.53 L345.54 490.65 L345.30 490.76 L345.05 490.88 L344.79 490.99 L344.53 491.10 L344.25 491.21 L343.97 491.32 L343.68 491.43 L343.38 491.54 L343.08 491.64 L342.76 491.75 L342.44 491.85 L342.11 491.95 L341.77 492.05 L341.43 492.15 L341.08 492.25 L340.72 492.34 L340.35 492.44 L339.98 492.53 L339.60 492.62 L339.21 492.71 L338.82 492.80 L338.42 492.89 L338.01 492.97 L337.60 493.06 L337.18 493.14 L336.75 493.22 L336.32 493.30 L335.89 493.37 L335.44 493.45 L335.00 493.52 L334.54 493.59 L334.08 493.66 L333.62 493.73 L333.15 493.79 L332.68 493.86 L332.20 493.92 L331.72 493.98 L331.23 494.04 L330.74 494.09 L330.24 494.15 L329.74 494.20 L329.24 494.25 L328.73 494.30 L328.22 494.34 L327.71 494.38 L327.19 494.43 L326.67 494.47 L326.15 494.50 L325.62 494.54 L325.10 494.57 L324.56 494.60 L324.03 494.63 L323.50 494.66 L322.96 494.68 L322.42 494.70 L321.88 494.72 L321.34 494.74 L320.80 494.75 L320.26 494.77 L319.71 494.78 L319.17 494.79 L318.62 494.79 L318.07 494.80 L317.53 494.80 L316.98 494.80 L316.43 494.80 L315.89 494.79 L315.34 494.79 L314.80 494.78 L314.25 494.77 L313.71 494.75 L313.17 494.74 L312.63 494.72 L312.09 494.70 L311.55 494.68 L311.01 494.65 L310.48 494.62 L309.95 494.60 L309.42 494.56 L308.89 494.53 L308.36 494.50 L307.84 494.46 L307.32 494.42 L306.80 494.38 L306.29 494.33 L305.78 494.29 L305.28 494.24 L304.77 494.19 L304.27 494.14 L303.78 494.08 L303.29 494.03 L302.80 493.97 L302.32 493.91 L301.84 493.85 L301.37 493.78 L300.90 493.72 L300.44 493.65 L299.98 493.58 L299.53 493.51 L299.08 493.44 L298.64 493.36 L298.20 493.28 L297.77 493.21 L297.35 493.12 L296.93 493.04 L296.52 492.96 L296.11 492.87 L295.71 492.79 L295.32 492.70 L294.94 492.61 L294.56 492.52 L294.19 492.42 L293.82 492.33 L293.46 492.23 L293.11 492.13 L292.77 492.03 L292.43 491.93 L292.11 491.83 L291.79 491.73 L291.47 491.62 L291.17 491.52 L290.87 491.41 L290.58 491.30 L290.30 491.19 L290.03 491.08 L289.77 490.97 L289.51 490.86 L289.26 490.75 L289.02 490.63 L288.79 490.51 L288.57 490.40 L288.36 490.28 L288.16 490.16 L287.96 490.04 L287.78 489.92 L287.60 489.80 L287.43 489.68 L287.27 489.56 L287.12 489.44 L286.98 489.31 L286.85 489.19 L286.73 489.07 L286.62 488.94 L286.51 488.82 L286.42 488.69 L286.33 488.56 L286.26 488.44 L286.19 488.31 L286.14 488.19 L286.09 488.06 L286.05 487.93 L286.03 487.80 L286.01 487.68 L286.00 487.55 L286.00 487.42" stroke="#2e2e2e" stroke-width="5.5"/><path d="M348.60 487.57 L348.59 487.70 L348.57 487.83 L348.54 487.95 L348.50 488.08 L348.45 488.21 L348.40 488.33 L348.33 488.46 L348.25 488.59 L348.17 488.71 L348.07 488.84 L347.97 488.96 L347.85 489.09 L347.73 489.21 L347.60 489.33 L347.45 489.46 L347.30 489.58 L347.14 489.70 L346.97 489.82 L346.79 489.94 L346.61 490.06 L346.41 490.18 L346.20 490.30 L345.99 490.42 L345.77 490.53 L345.54 490.65 L345.30 490.76 L345.05 490.88 L344.79 490.99 L344.53 491.10 L344.25 491.21 L343.97 491.32 L343.68 491.43 L343.38 491.54 L343.08 491.64 L342.76 491.75 L342.44 491.85 L342.11 491.95 L341.77 492.05 L341.43 492.15 L341.08 492.25 L340.72 492.34 L340.35 492.44 L339.98 492.53 L339.60 492.62 L339.21 492.71 L338.82 492.80 L338.42 492.89 L338.01 492.97 L337.60 493.06 L337.18 493.14 L336.75 493.22 L336.32 493.30 L335.89 493.37 L335.44 493.45 L335.00 493.52 L334.54 493.59 L334.08 493.66 L333.62 493.73 L333.15 493.79 L332.68 493.86 L332.20 493.92 L331.72 493.98 L331.23 494.04 L330.74 494.09 L330.24 494.15 L329.74 494.20 L329.24 494.25 L328.73 494.30 L328.22 494.34 L327.71 494.38 L327.19 494.43 L326.67 494.47 L326.15 494.50 L325.62 494.54 L325.10 494.57 L324.56 494.60 L324.03 494.63 L323.50 494.66 L322.96 494.68 L322.42 494.70 L321.88 494.72 L321.34 494.74 L320.80 494.75 L320.26 494.77 L319.71 494.78 L319.17 494.79 L318.62 494.79 L318.07 494.80 L317.53 494.80 L316.98 494.80 L316.43 494.80 L315.89 494.79 L315.34 494.79 L314.80 494.78 L314.25 494.77 L313.71 494.75 L313.17 494.74 L312.63 494.72 L312.09 494.70 L311.55 494.68 L311.01 494.65 L310.48 494.62 L309.95 494.60 L309.42 494.56 L308.89 494.53 L308.36 494.50 L307.84 494.46 L307.32 494.42 L306.80 494.38 L306.29 494.33 L305.78 494.29 L305.28 494.24 L304.77 494.19 L304.27 494.14 L303.78 494.08 L303.29 494.03 L302.80 493.97 L302.32 493.91 L301.84 493.85 L301.37 493.78 L300.90 493.72 L300.44 493.65 L299.98 493.58 L299.53 493.51 L299.08 493.44 L298.64 493.36 L298.20 493.28 L297.77 493.21 L297.35 493.12 L296.93 493.04 L296.52 492.96 L296.11 492.87 L295.71 492.79 L295.32 492.70 L294.94 492.61 L294.56 492.52 L294.19 492.42 L293.82 492.33 L293.46 492.23 L293.11 492.13 L292.77 492.03 L292.43 491.93 L292.11 491.83 L291.79 491.73 L291.47 491.62 L291.17 491.52 L290.87 491.41 L290.58 491.30 L290.30 491.19 L290.03 491.08 L289.77 490.97 L289.51 490.86 L289.26 490.75 L289.02 490.63 L288.79 490.51 L288.57 490.40 L288.36 490.28 L288.16 490.16 L287.96 490.04 L287.78 489.92 L287.60 489.80 L287.43 489.68 L287.27 489.56 L287.12 489.44 L286.98 489.31 L286.85 489.19 L286.73 489.07 L286.62 488.94 L286.51 488.82 L286.42 488.69 L286.33 488.56 L286.26 488.44 L286.19 488.31 L286.14 488.19 L286.09 488.06 L286.05 487.93 L286.03 487.80 L286.01 487.68 L286.00 487.55 L286.00 487.42" stroke="#fff" stroke-width="2.8"/>
<path d="M349.70 475.06 L349.69 475.19 L349.67 475.33 L349.64 475.47 L349.61 475.60 L349.56 475.74 L349.50 475.87 L349.44 476.01 L349.36 476.14 L349.27 476.28 L349.18 476.41 L349.08 476.55 L348.96 476.68 L348.84 476.81 L348.71 476.94 L348.56 477.08 L348.41 477.21 L348.25 477.34 L348.08 477.47 L347.91 477.59 L347.72 477.72 L347.52 477.85 L347.32 477.98 L347.10 478.10 L346.88 478.23 L346.65 478.35 L346.41 478.47 L346.16 478.59 L345.90 478.71 L345.63 478.83 L345.36 478.95 L345.08 479.07 L344.79 479.18 L344.49 479.30 L344.18 479.41 L343.86 479.52 L343.54 479.63 L343.21 479.74 L342.87 479.85 L342.53 479.95 L342.17 480.06 L341.81 480.16 L341.45 480.26 L341.07 480.36 L340.69 480.46 L340.30 480.56 L339.91 480.65 L339.51 480.75 L339.10 480.84 L338.68 480.93 L338.26 481.01 L337.83 481.10 L337.40 481.18 L336.96 481.27 L336.52 481.35 L336.07 481.42 L335.61 481.50 L335.15 481.57 L334.68 481.65 L334.21 481.72 L333.74 481.79 L333.26 481.85 L332.77 481.92 L332.28 481.98 L331.79 482.04 L331.29 482.09 L330.79 482.15 L330.28 482.20 L329.77 482.25 L329.26 482.30 L328.74 482.35 L328.22 482.39 L327.70 482.44 L327.17 482.48 L326.64 482.51 L326.11 482.55 L325.58 482.58 L325.04 482.61 L324.51 482.64 L323.97 482.67 L323.42 482.69 L322.88 482.71 L322.34 482.73 L321.79 482.75 L321.24 482.76 L320.70 482.78 L320.15 482.79 L319.60 482.79 L319.05 482.80 L318.50 482.80 L317.95 482.80 L317.40 482.80 L316.85 482.79 L316.30 482.79 L315.75 482.78 L315.20 482.76 L314.66 482.75 L314.11 482.73 L313.57 482.72 L313.02 482.69 L312.48 482.67 L311.94 482.64 L311.40 482.62 L310.87 482.59 L310.33 482.55 L309.80 482.52 L309.27 482.48 L308.75 482.44 L308.22 482.40 L307.70 482.35 L307.19 482.31 L306.67 482.26 L306.16 482.21 L305.66 482.16 L305.15 482.10 L304.66 482.04 L304.16 481.98 L303.67 481.92 L303.19 481.86 L302.70 481.79 L302.23 481.72 L301.76 481.65 L301.29 481.58 L300.83 481.51 L300.37 481.43 L299.92 481.35 L299.48 481.27 L299.04 481.19 L298.60 481.11 L298.18 481.02 L297.75 480.93 L297.34 480.84 L296.93 480.75 L296.53 480.66 L296.13 480.57 L295.74 480.47 L295.36 480.37 L294.99 480.27 L294.62 480.17 L294.26 480.07 L293.90 479.96 L293.56 479.86 L293.22 479.75 L292.89 479.64 L292.56 479.53 L292.25 479.42 L291.94 479.31 L291.64 479.19 L291.35 479.08 L291.07 478.96 L290.79 478.84 L290.52 478.72 L290.26 478.60 L290.01 478.48 L289.77 478.36 L289.54 478.24 L289.32 478.11 L289.10 477.99 L288.90 477.86 L288.70 477.73 L288.51 477.61 L288.33 477.48 L288.16 477.35 L288.00 477.22 L287.85 477.09 L287.71 476.96 L287.57 476.82 L287.45 476.69 L287.33 476.56 L287.23 476.42 L287.13 476.29 L287.05 476.15 L286.97 476.02 L286.90 475.88 L286.85 475.75 L286.80 475.61 L286.76 475.48 L286.73 475.34 L286.71 475.21 L286.70 475.07 L286.70 474.93" stroke="#2e2e2e" stroke-width="5.5"/><path d="M349.70 475.06 L349.69 475.19 L349.67 475.33 L349.64 475.47 L349.61 475.60 L349.56 475.74 L349.50 475.87 L349.44 476.01 L349.36 476.14 L349.27 476.28 L349.18 476.41 L349.08 476.55 L348.96 476.68 L348.84 476.81 L348.71 476.94 L348.56 477.08 L348.41 477.21 L348.25 477.34 L348.08 477.47 L347.91 477.59 L347.72 477.72 L347.52 477.85 L347.32 477.98 L347.10 478.10 L346.88 478.23 L346.65 478.35 L346.41 478.47 L346.16 478.59 L345.90 478.71 L345.63 478.83 L345.36 478.95 L345.08 479.07 L344.79 479.18 L344.49 479.30 L344.18 479.41 L343.86 479.52 L343.54 479.63 L343.21 479.74 L342.87 479.85 L342.53 479.95 L342.17 480.06 L341.81 480.16 L341.45 480.26 L341.07 480.36 L340.69 480.46 L340.30 480.56 L339.91 480.65 L339.51 480.75 L339.10 480.84 L338.68 480.93 L338.26 481.01 L337.83 481.10 L337.40 481.18 L336.96 481.27 L336.52 481.35 L336.07 481.42 L335.61 481.50 L335.15 481.57 L334.68 481.65 L334.21 481.72 L333.74 481.79 L333.26 481.85 L332.77 481.92 L332.28 481.98 L331.79 482.04 L331.29 482.09 L330.79 482.15 L330.28 482.20 L329.77 482.25 L329.26 482.30 L328.74 482.35 L328.22 482.39 L327.70 482.44 L327.17 482.48 L326.64 482.51 L326.11 482.55 L325.58 482.58 L325.04 482.61 L324.51 482.64 L323.97 482.67 L323.42 482.69 L322.88 482.71 L322.34 482.73 L321.79 482.75 L321.24 482.76 L320.70 482.78 L320.15 482.79 L319.60 482.79 L319.05 482.80 L318.50 482.80 L317.95 482.80 L317.40 482.80 L316.85 482.79 L316.30 482.79 L315.75 482.78 L315.20 482.76 L314.66 482.75 L314.11 482.73 L313.57 482.72 L313.02 482.69 L312.48 482.67 L311.94 482.64 L311.40 482.62 L310.87 482.59 L310.33 482.55 L309.80 482.52 L309.27 482.48 L308.75 482.44 L308.22 482.40 L307.70 482.35 L307.19 482.31 L306.67 482.26 L306.16 482.21 L305.66 482.16 L305.15 482.10 L304.66 482.04 L304.16 481.98 L303.67 481.92 L303.19 481.86 L302.70 481.79 L302.23 481.72 L301.76 481.65 L301.29 481.58 L300.83 481.51 L300.37 481.43 L299.92 481.35 L299.48 481.27 L299.04 481.19 L298.60 481.11 L298.18 481.02 L297.75 480.93 L297.34 480.84 L296.93 480.75 L296.53 480.66 L296.13 480.57 L295.74 480.47 L295.36 480.37 L294.99 480.27 L294.62 480.17 L294.26 480.07 L293.90 479.96 L293.56 479.86 L293.22 479.75 L292.89 479.64 L292.56 479.53 L292.25 479.42 L291.94 479.31 L291.64 479.19 L291.35 479.08 L291.07 478.96 L290.79 478.84 L290.52 478.72 L290.26 478.60 L290.01 478.48 L289.77 478.36 L289.54 478.24 L289.32 478.11 L289.10 477.99 L288.90 477.86 L288.70 477.73 L288.51 477.61 L288.33 477.48 L288.16 477.35 L288.00 477.22 L287.85 477.09 L287.71 476.96 L287.57 476.82 L287.45 476.69 L287.33 476.56 L287.23 476.42 L287.13 476.29 L287.05 476.15 L286.97 476.02 L286.90 475.88 L286.85 475.75 L286.80 475.61 L286.76 475.48 L286.73 475.34 L286.71 475.21 L286.70 475.07 L286.70 474.93" stroke="#fff" stroke-width="2.8"/>
<path d="M350.40 461.05 L350.39 461.20 L350.38 461.35 L350.35 461.51 L350.31 461.66 L350.27 461.81 L350.21 461.97 L350.15 462.12 L350.08 462.27 L349.99 462.42 L349.90 462.57 L349.80 462.72 L349.69 462.87 L349.57 463.02 L349.44 463.17 L349.30 463.32 L349.15 463.47 L349.00 463.62 L348.83 463.76 L348.66 463.91 L348.47 464.05 L348.28 464.20 L348.08 464.34 L347.87 464.48 L347.65 464.62 L347.43 464.76 L347.19 464.90 L346.95 465.04 L346.69 465.17 L346.43 465.31 L346.16 465.44 L345.89 465.57 L345.60 465.70 L345.31 465.83 L345.01 465.96 L344.70 466.09 L344.38 466.21 L344.06 466.33 L343.73 466.46 L343.39 466.57 L343.04 466.69 L342.69 466.81 L342.32 466.92 L341.96 467.04 L341.58 467.15 L341.20 467.26 L340.81 467.36 L340.42 467.47 L340.02 467.57 L339.61 467.67 L339.20 467.77 L338.78 467.87 L338.35 467.96 L337.92 468.06 L337.48 468.15 L337.04 468.24 L336.59 468.32 L336.14 468.41 L335.68 468.49 L335.22 468.57 L334.75 468.65 L334.28 468.72 L333.80 468.79 L333.32 468.86 L332.83 468.93 L332.34 469.00 L331.85 469.06 L331.35 469.12 L330.85 469.18 L330.35 469.23 L329.84 469.29 L329.33 469.34 L328.81 469.38 L328.30 469.43 L327.78 469.47 L327.25 469.51 L326.73 469.55 L326.20 469.59 L325.67 469.62 L325.14 469.65 L324.61 469.67 L324.08 469.70 L323.54 469.72 L323.00 469.74 L322.47 469.76 L321.93 469.77 L321.39 469.78 L320.85 469.79 L320.31 469.80 L319.76 469.80 L319.22 469.80 L318.68 469.80 L318.14 469.79 L317.60 469.79 L317.06 469.77 L316.52 469.76 L315.98 469.75 L315.44 469.73 L314.91 469.71 L314.37 469.68 L313.84 469.66 L313.31 469.63 L312.78 469.60 L312.25 469.56 L311.73 469.53 L311.20 469.49 L310.68 469.44 L310.16 469.40 L309.65 469.35 L309.14 469.30 L308.63 469.25 L308.12 469.20 L307.62 469.14 L307.12 469.08 L306.63 469.02 L306.13 468.95 L305.65 468.89 L305.16 468.82 L304.69 468.75 L304.21 468.67 L303.74 468.59 L303.28 468.52 L302.82 468.44 L302.36 468.35 L301.91 468.27 L301.47 468.18 L301.03 468.09 L300.60 468.00 L300.17 467.90 L299.75 467.81 L299.33 467.71 L298.92 467.61 L298.52 467.50 L298.12 467.40 L297.73 467.29 L297.35 467.19 L296.97 467.07 L296.60 466.96 L296.24 466.85 L295.88 466.73 L295.53 466.62 L295.19 466.50 L294.86 466.38 L294.53 466.25 L294.21 466.13 L293.90 466.00 L293.60 465.88 L293.30 465.75 L293.01 465.62 L292.73 465.49 L292.46 465.35 L292.20 465.22 L291.94 465.08 L291.69 464.95 L291.45 464.81 L291.22 464.67 L291.00 464.53 L290.79 464.39 L290.59 464.25 L290.39 464.10 L290.20 463.96 L290.03 463.81 L289.86 463.67 L289.70 463.52 L289.55 463.37 L289.41 463.22 L289.27 463.08 L289.15 462.93 L289.04 462.78 L288.93 462.63 L288.84 462.47 L288.75 462.32 L288.68 462.17 L288.61 462.02 L288.55 461.87 L288.50 461.71 L288.46 461.56 L288.43 461.41 L288.41 461.25 L288.40 461.10 L288.40 460.94" stroke="#2e2e2e" stroke-width="5.5"/><path d="M350.40 461.05 L350.39 461.20 L350.38 461.35 L350.35 461.51 L350.31 461.66 L350.27 461.81 L350.21 461.97 L350.15 462.12 L350.08 462.27 L349.99 462.42 L349.90 462.57 L349.80 462.72 L349.69 462.87 L349.57 463.02 L349.44 463.17 L349.30 463.32 L349.15 463.47 L349.00 463.62 L348.83 463.76 L348.66 463.91 L348.47 464.05 L348.28 464.20 L348.08 464.34 L347.87 464.48 L347.65 464.62 L347.43 464.76 L347.19 464.90 L346.95 465.04 L346.69 465.17 L346.43 465.31 L346.16 465.44 L345.89 465.57 L345.60 465.70 L345.31 465.83 L345.01 465.96 L344.70 466.09 L344.38 466.21 L344.06 466.33 L343.73 466.46 L343.39 466.57 L343.04 466.69 L342.69 466.81 L342.32 466.92 L341.96 467.04 L341.58 467.15 L341.20 467.26 L340.81 467.36 L340.42 467.47 L340.02 467.57 L339.61 467.67 L339.20 467.77 L338.78 467.87 L338.35 467.96 L337.92 468.06 L337.48 468.15 L337.04 468.24 L336.59 468.32 L336.14 468.41 L335.68 468.49 L335.22 468.57 L334.75 468.65 L334.28 468.72 L333.80 468.79 L333.32 468.86 L332.83 468.93 L332.34 469.00 L331.85 469.06 L331.35 469.12 L330.85 469.18 L330.35 469.23 L329.84 469.29 L329.33 469.34 L328.81 469.38 L328.30 469.43 L327.78 469.47 L327.25 469.51 L326.73 469.55 L326.20 469.59 L325.67 469.62 L325.14 469.65 L324.61 469.67 L324.08 469.70 L323.54 469.72 L323.00 469.74 L322.47 469.76 L321.93 469.77 L321.39 469.78 L320.85 469.79 L320.31 469.80 L319.76 469.80 L319.22 469.80 L318.68 469.80 L318.14 469.79 L317.60 469.79 L317.06 469.77 L316.52 469.76 L315.98 469.75 L315.44 469.73 L314.91 469.71 L314.37 469.68 L313.84 469.66 L313.31 469.63 L312.78 469.60 L312.25 469.56 L311.73 469.53 L311.20 469.49 L310.68 469.44 L310.16 469.40 L309.65 469.35 L309.14 469.30 L308.63 469.25 L308.12 469.20 L307.62 469.14 L307.12 469.08 L306.63 469.02 L306.13 468.95 L305.65 468.89 L305.16 468.82 L304.69 468.75 L304.21 468.67 L303.74 468.59 L303.28 468.52 L302.82 468.44 L302.36 468.35 L301.91 468.27 L301.47 468.18 L301.03 468.09 L300.60 468.00 L300.17 467.90 L299.75 467.81 L299.33 467.71 L298.92 467.61 L298.52 467.50 L298.12 467.40 L297.73 467.29 L297.35 467.19 L296.97 467.07 L296.60 466.96 L296.24 466.85 L295.88 466.73 L295.53 466.62 L295.19 466.50 L294.86 466.38 L294.53 466.25 L294.21 466.13 L293.90 466.00 L293.60 465.88 L293.30 465.75 L293.01 465.62 L292.73 465.49 L292.46 465.35 L292.20 465.22 L291.94 465.08 L291.69 464.95 L291.45 464.81 L291.22 464.67 L291.00 464.53 L290.79 464.39 L290.59 464.25 L290.39 464.10 L290.20 463.96 L290.03 463.81 L289.86 463.67 L289.70 463.52 L289.55 463.37 L289.41 463.22 L289.27 463.08 L289.15 462.93 L289.04 462.78 L288.93 462.63 L288.84 462.47 L288.75 462.32 L288.68 462.17 L288.61 462.02 L288.55 461.87 L288.50 461.71 L288.46 461.56 L288.43 461.41 L288.41 461.25 L288.40 461.10 L288.40 460.94" stroke="#fff" stroke-width="2.8"/>
<path d="M351.30 445.23 L351.29 445.38 L351.28 445.53 L351.25 445.68 L351.22 445.83 L351.17 445.97 L351.12 446.12 L351.06 446.27 L350.98 446.42 L350.90 446.57 L350.81 446.72 L350.71 446.87 L350.60 447.01 L350.48 447.16 L350.35 447.31 L350.22 447.45 L350.07 447.60 L349.91 447.74 L349.75 447.88 L349.57 448.02 L349.39 448.17 L349.20 448.31 L349.00 448.45 L348.79 448.58 L348.57 448.72 L348.35 448.86 L348.11 448.99 L347.87 449.13 L347.61 449.26 L347.35 449.39 L347.09 449.52 L346.81 449.65 L346.52 449.78 L346.23 449.91 L345.93 450.03 L345.62 450.15 L345.30 450.28 L344.98 450.40 L344.65 450.52 L344.31 450.63 L343.96 450.75 L343.61 450.86 L343.25 450.97 L342.88 451.09 L342.50 451.19 L342.12 451.30 L341.73 451.41 L341.34 451.51 L340.94 451.61 L340.53 451.71 L340.11 451.81 L339.69 451.90 L339.27 451.99 L338.84 452.09 L338.40 452.17 L337.96 452.26 L337.51 452.35 L337.05 452.43 L336.59 452.51 L336.13 452.59 L335.66 452.66 L335.19 452.74 L334.71 452.81 L334.23 452.88 L333.74 452.94 L333.25 453.01 L332.75 453.07 L332.26 453.13 L331.75 453.18 L331.25 453.24 L330.74 453.29 L330.23 453.34 L329.71 453.39 L329.19 453.43 L328.67 453.47 L328.15 453.51 L327.62 453.55 L327.09 453.59 L326.56 453.62 L326.03 453.65 L325.50 453.67 L324.96 453.70 L324.42 453.72 L323.88 453.74 L323.34 453.76 L322.80 453.77 L322.26 453.78 L321.72 453.79 L321.18 453.80 L320.63 453.80 L320.09 453.80 L319.55 453.80 L319.01 453.79 L318.46 453.79 L317.92 453.78 L317.38 453.76 L316.84 453.75 L316.30 453.73 L315.76 453.71 L315.23 453.69 L314.69 453.66 L314.16 453.64 L313.63 453.61 L313.10 453.57 L312.57 453.54 L312.04 453.50 L311.52 453.46 L311.00 453.42 L310.48 453.37 L309.97 453.32 L309.46 453.27 L308.95 453.22 L308.45 453.16 L307.94 453.10 L307.45 453.04 L306.95 452.98 L306.47 452.92 L305.98 452.85 L305.50 452.78 L305.02 452.71 L304.55 452.63 L304.08 452.56 L303.62 452.48 L303.17 452.40 L302.71 452.31 L302.27 452.23 L301.83 452.14 L301.39 452.05 L300.96 451.96 L300.54 451.86 L300.12 451.77 L299.71 451.67 L299.30 451.57 L298.90 451.47 L298.51 451.36 L298.13 451.26 L297.75 451.15 L297.38 451.04 L297.01 450.93 L296.65 450.82 L296.30 450.70 L295.96 450.59 L295.62 450.47 L295.29 450.35 L294.97 450.23 L294.66 450.11 L294.35 449.98 L294.05 449.86 L293.76 449.73 L293.48 449.60 L293.21 449.47 L292.94 449.34 L292.68 449.21 L292.44 449.07 L292.19 448.94 L291.96 448.80 L291.74 448.67 L291.53 448.53 L291.32 448.39 L291.12 448.25 L290.93 448.11 L290.75 447.97 L290.58 447.83 L290.42 447.68 L290.27 447.54 L290.13 447.39 L289.99 447.25 L289.87 447.10 L289.75 446.95 L289.65 446.81 L289.55 446.66 L289.46 446.51 L289.39 446.36 L289.32 446.21 L289.26 446.06 L289.21 445.92 L289.17 445.77 L289.14 445.62 L289.11 445.47 L289.10 445.32 L289.10 445.17" stroke="#2e2e2e" stroke-width="5.5"/><path d="M351.30 445.23 L351.29 445.38 L351.28 445.53 L351.25 445.68 L351.22 445.83 L351.17 445.97 L351.12 446.12 L351.06 446.27 L350.98 446.42 L350.90 446.57 L350.81 446.72 L350.71 446.87 L350.60 447.01 L350.48 447.16 L350.35 447.31 L350.22 447.45 L350.07 447.60 L349.91 447.74 L349.75 447.88 L349.57 448.02 L349.39 448.17 L349.20 448.31 L349.00 448.45 L348.79 448.58 L348.57 448.72 L348.35 448.86 L348.11 448.99 L347.87 449.13 L347.61 449.26 L347.35 449.39 L347.09 449.52 L346.81 449.65 L346.52 449.78 L346.23 449.91 L345.93 450.03 L345.62 450.15 L345.30 450.28 L344.98 450.40 L344.65 450.52 L344.31 450.63 L343.96 450.75 L343.61 450.86 L343.25 450.97 L342.88 451.09 L342.50 451.19 L342.12 451.30 L341.73 451.41 L341.34 451.51 L340.94 451.61 L340.53 451.71 L340.11 451.81 L339.69 451.90 L339.27 451.99 L338.84 452.09 L338.40 452.17 L337.96 452.26 L337.51 452.35 L337.05 452.43 L336.59 452.51 L336.13 452.59 L335.66 452.66 L335.19 452.74 L334.71 452.81 L334.23 452.88 L333.74 452.94 L333.25 453.01 L332.75 453.07 L332.26 453.13 L331.75 453.18 L331.25 453.24 L330.74 453.29 L330.23 453.34 L329.71 453.39 L329.19 453.43 L328.67 453.47 L328.15 453.51 L327.62 453.55 L327.09 453.59 L326.56 453.62 L326.03 453.65 L325.50 453.67 L324.96 453.70 L324.42 453.72 L323.88 453.74 L323.34 453.76 L322.80 453.77 L322.26 453.78 L321.72 453.79 L321.18 453.80 L320.63 453.80 L320.09 453.80 L319.55 453.80 L319.01 453.79 L318.46 453.79 L317.92 453.78 L317.38 453.76 L316.84 453.75 L316.30 453.73 L315.76 453.71 L315.23 453.69 L314.69 453.66 L314.16 453.64 L313.63 453.61 L313.10 453.57 L312.57 453.54 L312.04 453.50 L311.52 453.46 L311.00 453.42 L310.48 453.37 L309.97 453.32 L309.46 453.27 L308.95 453.22 L308.45 453.16 L307.94 453.10 L307.45 453.04 L306.95 452.98 L306.47 452.92 L305.98 452.85 L305.50 452.78 L305.02 452.71 L304.55 452.63 L304.08 452.56 L303.62 452.48 L303.17 452.40 L302.71 452.31 L302.27 452.23 L301.83 452.14 L301.39 452.05 L300.96 451.96 L300.54 451.86 L300.12 451.77 L299.71 451.67 L299.30 451.57 L298.90 451.47 L298.51 451.36 L298.13 451.26 L297.75 451.15 L297.38 451.04 L297.01 450.93 L296.65 450.82 L296.30 450.70 L295.96 450.59 L295.62 450.47 L295.29 450.35 L294.97 450.23 L294.66 450.11 L294.35 449.98 L294.05 449.86 L293.76 449.73 L293.48 449.60 L293.21 449.47 L292.94 449.34 L292.68 449.21 L292.44 449.07 L292.19 448.94 L291.96 448.80 L291.74 448.67 L291.53 448.53 L291.32 448.39 L291.12 448.25 L290.93 448.11 L290.75 447.97 L290.58 447.83 L290.42 447.68 L290.27 447.54 L290.13 447.39 L289.99 447.25 L289.87 447.10 L289.75 446.95 L289.65 446.81 L289.55 446.66 L289.46 446.51 L289.39 446.36 L289.32 446.21 L289.26 446.06 L289.21 445.92 L289.17 445.77 L289.14 445.62 L289.11 445.47 L289.10 445.32 L289.10 445.17" stroke="#fff" stroke-width="2.8"/>
<path d="M346.40 426.61 L346.40 426.75 L346.39 426.89 L346.37 427.03 L346.34 427.18 L346.31 427.32 L346.27 427.46 L346.23 427.61 L346.18 427.75 L346.12 427.89 L346.05 428.03 L345.98 428.17 L345.90 428.31 L345.81 428.45 L345.72 428.59 L345.62 428.73 L345.51 428.87 L345.40 429.00 L345.28 429.14 L345.15 429.28 L345.02 429.41 L344.88 429.54 L344.73 429.68 L344.58 429.81 L344.42 429.94 L344.26 430.07 L344.08 430.20 L343.91 430.33 L343.72 430.46 L343.53 430.58 L343.34 430.71 L343.13 430.83 L342.92 430.95 L342.71 431.07 L342.49 431.19 L342.27 431.31 L342.03 431.43 L341.80 431.54 L341.55 431.65 L341.31 431.77 L341.05 431.88 L340.79 431.99 L340.53 432.09 L340.26 432.20 L339.99 432.30 L339.71 432.40 L339.42 432.50 L339.13 432.60 L338.84 432.70 L338.54 432.79 L338.24 432.89 L337.93 432.98 L337.62 433.07 L337.30 433.15 L336.98 433.24 L336.66 433.32 L336.33 433.40 L336.00 433.48 L335.66 433.56 L335.32 433.63 L334.98 433.71 L334.63 433.78 L334.28 433.84 L333.93 433.91 L333.57 433.97 L333.21 434.04 L332.85 434.09 L332.49 434.15 L332.12 434.21 L331.75 434.26 L331.37 434.31 L331.00 434.36 L330.62 434.40 L330.24 434.44 L329.86 434.48 L329.48 434.52 L329.09 434.56 L328.70 434.59 L328.31 434.62 L327.92 434.65 L327.53 434.68 L327.14 434.70 L326.75 434.72 L326.35 434.74 L325.96 434.76 L325.56 434.77 L325.16 434.78 L324.77 434.79 L324.37 434.80 L323.97 434.80 L323.57 434.80 L323.17 434.80 L322.78 434.79 L322.38 434.79 L321.98 434.78 L321.58 434.77 L321.19 434.75 L320.79 434.74 L320.40 434.72 L320.00 434.70 L319.61 434.67 L319.22 434.65 L318.83 434.62 L318.44 434.59 L318.05 434.55 L317.67 434.52 L317.29 434.48 L316.90 434.44 L316.53 434.40 L316.15 434.35 L315.77 434.30 L315.40 434.25 L315.03 434.20 L314.66 434.14 L314.30 434.09 L313.94 434.03 L313.58 433.97 L313.22 433.90 L312.87 433.83 L312.52 433.77 L312.17 433.70 L311.83 433.62 L311.49 433.55 L311.15 433.47 L310.82 433.39 L310.50 433.31 L310.17 433.23 L309.85 433.14 L309.54 433.05 L309.23 432.96 L308.92 432.87 L308.62 432.78 L308.32 432.69 L308.03 432.59 L307.74 432.49 L307.45 432.39 L307.18 432.29 L306.90 432.18 L306.63 432.08 L306.37 431.97 L306.11 431.86 L305.86 431.75 L305.61 431.64 L305.37 431.52 L305.13 431.41 L304.90 431.29 L304.68 431.17 L304.46 431.06 L304.25 430.93 L304.04 430.81 L303.84 430.69 L303.64 430.56 L303.45 430.44 L303.27 430.31 L303.09 430.18 L302.92 430.05 L302.76 429.92 L302.60 429.79 L302.45 429.66 L302.30 429.53 L302.16 429.39 L302.03 429.26 L301.90 429.12 L301.79 428.98 L301.67 428.85 L301.57 428.71 L301.47 428.57 L301.38 428.43 L301.29 428.29 L301.21 428.15 L301.14 428.01 L301.07 427.87 L301.02 427.73 L300.97 427.59 L300.92 427.44 L300.88 427.30 L300.85 427.16 L300.83 427.01 L300.81 426.87 L300.80 426.73 L300.80 426.59" stroke="#2e2e2e" stroke-width="5.5"/><path d="M346.40 426.61 L346.40 426.75 L346.39 426.89 L346.37 427.03 L346.34 427.18 L346.31 427.32 L346.27 427.46 L346.23 427.61 L346.18 427.75 L346.12 427.89 L346.05 428.03 L345.98 428.17 L345.90 428.31 L345.81 428.45 L345.72 428.59 L345.62 428.73 L345.51 428.87 L345.40 429.00 L345.28 429.14 L345.15 429.28 L345.02 429.41 L344.88 429.54 L344.73 429.68 L344.58 429.81 L344.42 429.94 L344.26 430.07 L344.08 430.20 L343.91 430.33 L343.72 430.46 L343.53 430.58 L343.34 430.71 L343.13 430.83 L342.92 430.95 L342.71 431.07 L342.49 431.19 L342.27 431.31 L342.03 431.43 L341.80 431.54 L341.55 431.65 L341.31 431.77 L341.05 431.88 L340.79 431.99 L340.53 432.09 L340.26 432.20 L339.99 432.30 L339.71 432.40 L339.42 432.50 L339.13 432.60 L338.84 432.70 L338.54 432.79 L338.24 432.89 L337.93 432.98 L337.62 433.07 L337.30 433.15 L336.98 433.24 L336.66 433.32 L336.33 433.40 L336.00 433.48 L335.66 433.56 L335.32 433.63 L334.98 433.71 L334.63 433.78 L334.28 433.84 L333.93 433.91 L333.57 433.97 L333.21 434.04 L332.85 434.09 L332.49 434.15 L332.12 434.21 L331.75 434.26 L331.37 434.31 L331.00 434.36 L330.62 434.40 L330.24 434.44 L329.86 434.48 L329.48 434.52 L329.09 434.56 L328.70 434.59 L328.31 434.62 L327.92 434.65 L327.53 434.68 L327.14 434.70 L326.75 434.72 L326.35 434.74 L325.96 434.76 L325.56 434.77 L325.16 434.78 L324.77 434.79 L324.37 434.80 L323.97 434.80 L323.57 434.80 L323.17 434.80 L322.78 434.79 L322.38 434.79 L321.98 434.78 L321.58 434.77 L321.19 434.75 L320.79 434.74 L320.40 434.72 L320.00 434.70 L319.61 434.67 L319.22 434.65 L318.83 434.62 L318.44 434.59 L318.05 434.55 L317.67 434.52 L317.29 434.48 L316.90 434.44 L316.53 434.40 L316.15 434.35 L315.77 434.30 L315.40 434.25 L315.03 434.20 L314.66 434.14 L314.30 434.09 L313.94 434.03 L313.58 433.97 L313.22 433.90 L312.87 433.83 L312.52 433.77 L312.17 433.70 L311.83 433.62 L311.49 433.55 L311.15 433.47 L310.82 433.39 L310.50 433.31 L310.17 433.23 L309.85 433.14 L309.54 433.05 L309.23 432.96 L308.92 432.87 L308.62 432.78 L308.32 432.69 L308.03 432.59 L307.74 432.49 L307.45 432.39 L307.18 432.29 L306.90 432.18 L306.63 432.08 L306.37 431.97 L306.11 431.86 L305.86 431.75 L305.61 431.64 L305.37 431.52 L305.13 431.41 L304.90 431.29 L304.68 431.17 L304.46 431.06 L304.25 430.93 L304.04 430.81 L303.84 430.69 L303.64 430.56 L303.45 430.44 L303.27 430.31 L303.09 430.18 L302.92 430.05 L302.76 429.92 L302.60 429.79 L302.45 429.66 L302.30 429.53 L302.16 429.39 L302.03 429.26 L301.90 429.12 L301.79 428.98 L301.67 428.85 L301.57 428.71 L301.47 428.57 L301.38 428.43 L301.29 428.29 L301.21 428.15 L301.14 428.01 L301.07 427.87 L301.02 427.73 L300.97 427.59 L300.92 427.44 L300.88 427.30 L300.85 427.16 L300.83 427.01 L300.81 426.87 L300.80 426.73 L300.80 426.59" stroke="#fff" stroke-width="2.8"/>
</g>

<!-- strut 1 -->
<g id="strut" stroke="#3a3a3a" stroke-width="1.1" fill="#fff" stroke-linejoin="round">
 <!-- lower cap -->
 <path d="M531.3 486 L531.5 495.5 C534 499,550 499,552.5 495.5 L552.5 486 Z"/>
 <!-- body -->
 <path d="M529.7 343 L529.7 486 C530 490,534 490.5,542 490.5 C550 490.5,553.8 490,553.9 486 L554.1 343 Z"/>
 <path d="M529.7 347.5 C534 349.5,550 349.5,554.1 347.5 M529.7 352.5 C534 354.5,550 354.5,554.1 352.5" fill="none" stroke-width="0.9"/>
 <path d="M531.5 346 V486" fill="none" stroke-width="0.6" stroke="#888"/>
 <!-- nut -->
 <path d="M529.5 336 L529.5 341 C532 344.8,551 344.8,554.2 341 L554.2 336 Z"/>
 <ellipse cx="541.9" cy="335.5" rx="12.3" ry="4.3"/>
 <path d="M537.5 339.5 V344 M546.5 339.5 V344" fill="none" stroke-width="0.8"/>
 <!-- rods -->
 <path d="M537 295 L537 335 C539 337,545 337,547 335 L547 295 Z"/>
 <path d="M538.8 268 C539 265,545 265,545.2 268 L545.2 295.5 C543 297,541 297,538.8 295.5 Z"/>
 <ellipse cx="542" cy="268" rx="3.2" ry="1.3" fill="none" stroke-width="0.8"/>
 <!-- right brackets -->
 <path d="M554.1 424 L559.5 422.5 C561 423.5,560 426,554.1 427 Z M554.1 445.5 L559.5 444.5 L559.5 482 L554.1 482 Z M554.1 427 L557.5 428 L557.5 443 L554.1 443.5 Z" stroke-width="1"/>
 <path d="M553.5 485 C556 483,559 482.5,560 484 C559.5 486.5,557 488,553.5 488.5" stroke-width="1"/>
 <path d="M556 462 V466" stroke-width="0.8"/>
 <!-- seat lug below -->
 <path d="M526 396.5 C525.5 399,528 401,533 402.5 L542 403.5 C547 403.5,549.5 402,549.6 399.5" stroke-width="1"/>
 <!-- spring seat -->
 <g transform="rotate(9 533.3 382)">
  <ellipse cx="533.3" cy="382" rx="37" ry="15" fill="#fff" stroke-width="1.2"/>
  <ellipse cx="533.6" cy="380.5" rx="34" ry="11.5" fill="none" stroke-width="0.9"/>
  <path d="M506 381 C510 374,520 371,532 371.5" fill="none" stroke-width="0.8"/>
  <ellipse cx="527" cy="385" rx="11" ry="5" fill="none" stroke-width="0.8"/>
 </g>
 <rect x="529.7" y="362" width="24.4" height="36" fill="#fff" stroke="none"/>
 <path d="M529.7 362 V395 M554.1 362 V395" fill="none"/>
 <path transform="rotate(9 533.3 382)" d="M496.3 382 A37 15 0 0 0 570.3 382 L567.6 380.5 A34 11.5 0 0 1 499.6 380.5 Z" fill="#fff" stroke-width="1.2"/>
</g>

<!-- dashed frame -->
<g fill="none" stroke="#4a4a4a" stroke-width="1">
<path d="M454.5 258.3 L542 226.2" stroke-dasharray="11 2.3 1.5 2.8"/>
<path d="M542 226.2 L542 263.5" stroke-dasharray="13.8 1.8 1.6 1.8"/>
<path d="M454.5 258.3 L454.4 526" stroke-dasharray="13.8 1.8 1.6 1.8"/>
<path d="M319.1 585 L454.4 526" stroke-dasharray="11 2.3 1.5 2.8"/>
<path d="M319.1 585 L319.1 515.5" stroke-dasharray="13.8 1.8 1.6 1.8"/>
</g>
<!-- leaders -->
<g class="ld">
<path d="M333 110.5H368.7"/>
<path d="M340 126.6H368.7"/>
<path d="M357 177.3H368.7"/>
<path d="M352 222.5H368.7"/>
<path d="M350 251.9H368.7"/>
<path d="M337.6 279.2H368.5"/>
<path d="M337 308.2H368.5"/>
<path d="M341 356.7H368.7"/>
<path d="M355 459H369"/>
<path d="M569.7 386.7H584.2"/>
<path d="M505.9 72.7H527.3"/>
<path d="M500.1 139.9V153"/>
<path d="M575.4 143.4H585"/>
</g>
<g>
<text x="370.5" y="115">9</text>
<text x="370.5" y="131">5</text>
<text x="370.7" y="181.5">2</text>
<text x="370.7" y="226.6">4</text>
<text x="370.7" y="256.3">3</text>
<text x="370.5" y="283.8">5</text>
<text x="370.7" y="312.8">8</text>
<text x="370.7" y="360.6">7</text>
<text x="370.3" y="463.3">6</text>
<path d="M586.8 385.6 L589.4 383.4 L589.4 390.3 M529.4 72.1 L532.0 69.9 L532.0 76.6 M495.7 158.1 L498.3 155.9 L498.3 162.2 M500.3 158.1 L502.9 155.9 L502.9 162.2 M587.7 142.3 L590.3 140.1 L590.3 146.6" fill="none" stroke="#2a2a2a" stroke-width="1.35" stroke-linejoin="miter"/>
<text x="534" y="77.2">0</text>
<text x="592.2" y="147.5">2</text>
</g>
</svg>
</body></html>
